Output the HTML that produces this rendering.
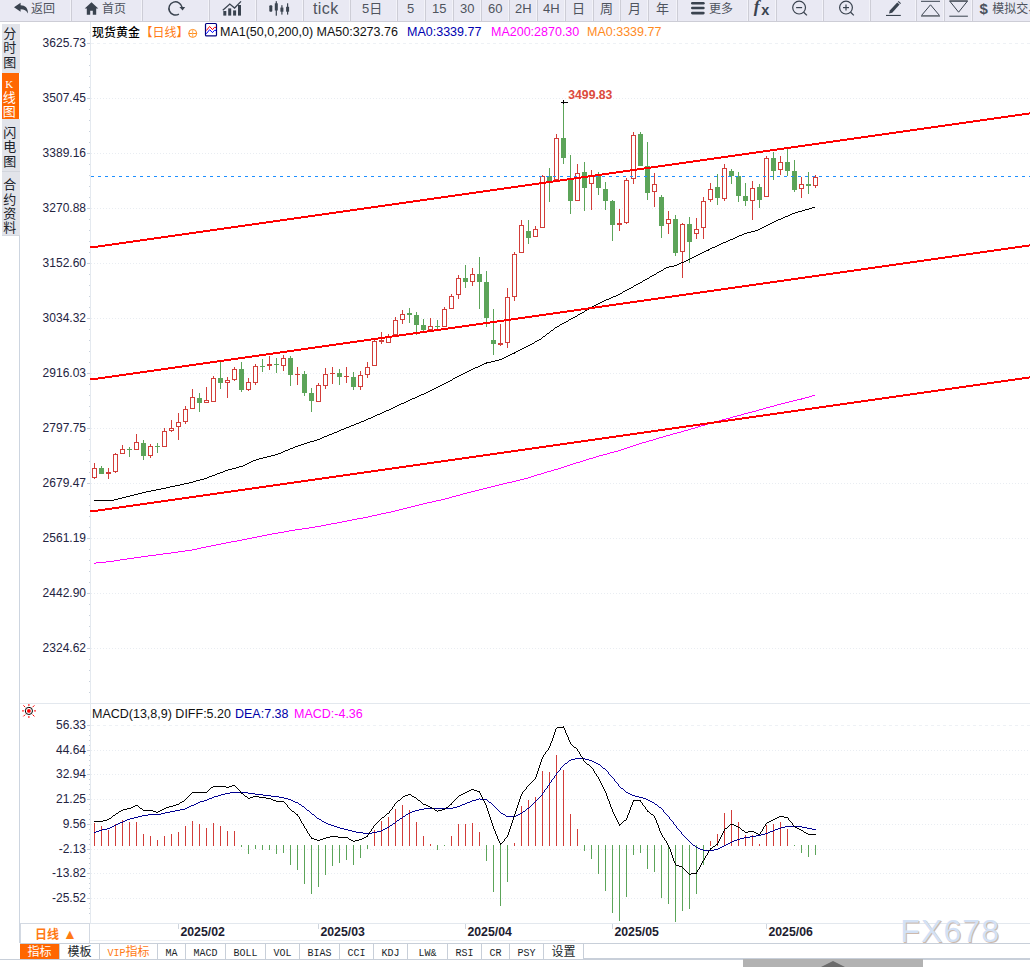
<!DOCTYPE html>
<html lang="zh-CN"><head><meta charset="utf-8"><title>现货黄金 日线</title>
<style>
html,body{margin:0;padding:0;background:#fff;}
body{width:1030px;height:967px;position:relative;overflow:hidden;font-family:"Liberation Sans", "Noto Sans CJK SC", sans-serif;color:#222;}
.abs{position:absolute;}
#tb{position:absolute;left:0;top:0;width:1030px;height:21px;background:#e9e9f3;border-bottom:1px solid #cdcdd6;box-sizing:content-box;}
#tb .b{position:absolute;top:0;height:21px;border-right:1px solid #f3f3f9;box-shadow:1px 0 0 #cdcdd6;font-size:12px;line-height:18px;color:#4f545e;white-space:nowrap;overflow:hidden;}
#tb .b span{position:absolute;top:0;}
#tb .n{font-size:13px;line-height:17px;}
#tb .b svg{vertical-align:middle;}
.side{position:absolute;left:2px;width:18px;font-size:13px;line-height:14.3px;text-align:center;color:#20232a;background:#e2e4ea;box-sizing:border-box;font-weight:400;overflow:hidden;padding-right:2.5px;}
.side div{height:14.3px;}
.side.on{background:#ff6600;color:#fff;font-weight:400;}
.ylab{position:absolute;right:944px;font-size:12px;line-height:14px;color:#23233f;white-space:nowrap;}
.hdr{position:absolute;font-size:12.5px;line-height:16px;white-space:nowrap;}
.bt{position:absolute;top:944px;height:15px;font-size:12px;line-height:17px;text-align:center;border-right:1px solid #c8cfd9;color:#1a1f2a;white-space:nowrap;overflow:hidden;}
.bt .m{font-family:"Liberation Mono",monospace;font-size:10px;display:inline-block;transform:scaleY(1.1);transform-origin:50% 70%;font-weight:normal;color:inherit;}
svg text{font-family:"Liberation Sans", "Noto Sans CJK SC", sans-serif;}
</style></head><body>

<div id="tb">
<div class="b" style="left:0px;width:70px"><span style="left:31px;">返回</span></div>
<div class="b" style="left:72px;width:69px"><span style="left:30px;">首页</span></div>
<div class="b" style="left:143px;width:65px"></div>
<div class="b" style="left:210px;width:45px"></div>
<div class="b" style="left:257px;width:45px"></div>
<div class="b" style="left:304px;width:45px"><span style="left:9px;font-size:16px;line-height:16px;top:1px;letter-spacing:0.4px;">tick</span></div>
<div class="b" style="left:351px;width:45px"><span style="left:11px;font-size:13px;line-height:17px;top:0px;">5日</span></div>
<div class="b" style="left:398px;width:26px"><span style="left:9px;font-size:13px;line-height:17px;top:0px;">5</span></div>
<div class="b" style="left:426px;width:26px"><span style="left:6px;font-size:13px;line-height:17px;top:0px;">15</span></div>
<div class="b" style="left:454px;width:26px"><span style="left:6px;font-size:13px;line-height:17px;top:0px;">30</span></div>
<div class="b" style="left:482px;width:26px"><span style="left:6px;font-size:13px;line-height:17px;top:0px;">60</span></div>
<div class="b" style="left:510px;width:26px"><span style="left:5px;font-size:13px;line-height:17px;top:0px;">2H</span></div>
<div class="b" style="left:538px;width:26px"><span style="left:5px;font-size:13px;line-height:17px;top:0px;">4H</span></div>
<div class="b" style="left:566px;width:26px"><span style="left:6px;font-size:13px;line-height:17px;top:0px;">日</span></div>
<div class="b" style="left:594px;width:25px"><span style="left:6px;font-size:13px;line-height:17px;top:0px;">周</span></div>
<div class="b" style="left:621px;width:26px"><span style="left:7px;font-size:13px;line-height:17px;top:0px;">月</span></div>
<div class="b" style="left:649px;width:27px"><span style="left:7px;font-size:13px;line-height:17px;top:0px;">年</span></div>
<div class="b" style="left:678px;width:69px"><span style="left:31px;">更多</span></div>
<div class="b" style="left:749px;width:26px"></div>
<div class="b" style="left:777px;width:45px"></div>
<div class="b" style="left:824px;width:45px"></div>
<div class="b" style="left:871px;width:44px"></div>
<div class="b" style="left:917px;width:26px"></div>
<div class="b" style="left:945px;width:26px"></div>
<div class="b" style="left:973px;width:66px"><span style="left:19.299999999999955px;">模拟交易</span></div>
</div>
<svg class="abs" style="left:0;top:0" width="1030" height="22" viewBox="0 0 1030 22">
<path d="M14,7.2 L20.6,2.8 L20.6,5.2 C25.2,5.2 28.2,8 27.9,13.5 C26.5,10.6 24.2,9.3 20.6,9.3 L20.6,11.7 Z" fill="#3a434f"/>
<path d="M91.5,2.2 L98.3,8.6 L96.2,8.6 L96.2,14.7 L92.8,14.7 L92.8,10.8 L90.2,10.8 L90.2,14.7 L86.8,14.7 L86.8,8.6 L84.7,8.6 Z" fill="#3a434f"/>
<path d="M178.9,14.1 A6.6,6.6 0 1 1 182,7.2" fill="none" stroke="#3a434f" stroke-width="1.5"/><path d="M179.4,7 L185.2,7 L182.6,10.6 Z" fill="#3a434f"/>
<g fill="#3a434f"><rect x="223.3" y="11" width="3" height="4.6"/><rect x="228.2" y="8.4" width="3" height="7.2"/><rect x="233.1" y="10.4" width="3" height="5.2"/><rect x="238" y="5" width="3" height="10.6"/></g>
<polyline points="222.8,10.2 229.8,4 234.6,8 241,1.4" fill="none" stroke="#3a434f" stroke-width="1.3"/>
<g fill="#3a434f"><rect x="269.3" y="5.2" width="3" height="6.5" rx="1"/><rect x="275.7" y="1.2" width="1.2" height="14.5"/><rect x="274.8" y="3.3" width="3" height="7.2"/><rect x="281.3" y="5.2" width="1.2" height="9.4"/><rect x="280.4" y="7.6" width="3" height="4.1"/><rect x="287" y="3.3" width="1.2" height="11.3"/><rect x="286.1" y="6.8" width="3" height="4.9"/></g>
<g fill="#3a434f"><rect x="691" y="2.1" width="13.7" height="2.4" rx="1.2"/><rect x="691" y="6.8" width="13.7" height="2.4" rx="1.2"/><rect x="691" y="11.8" width="13.7" height="2.6" rx="1.3"/></g>
<text x="753.8" y="12.2" font-size="17.5" font-style="italic" font-weight="bold" fill="#3a434f" style="font-family:'Liberation Serif',serif">f</text>
<text x="761.2" y="14.8" font-size="14.5" font-weight="bold" fill="#3a434f">x</text>
<circle cx="799.1" cy="7.6" r="6.4" fill="none" stroke="#3a434f" stroke-width="1.2"/>
<line x1="803.7" y1="12.2" x2="806.9" y2="15.4" stroke="#3a434f" stroke-width="1.3"/>
<line x1="796.1" y1="7.6" x2="802.1" y2="7.6" stroke="#3a434f" stroke-width="1.2"/>
<circle cx="846" cy="7.6" r="6.4" fill="none" stroke="#3a434f" stroke-width="1.2"/>
<line x1="850.6" y1="12.2" x2="853.8" y2="15.4" stroke="#3a434f" stroke-width="1.3"/>
<line x1="843" y1="7.6" x2="849" y2="7.6" stroke="#3a434f" stroke-width="1.2"/>
<line x1="846" y1="4.6" x2="846" y2="10.6" stroke="#3a434f" stroke-width="1.2"/>
<path d="M889,13.6 L889.8,10.6 L897.2,2.4 L899.6,4.6 L892.2,12.8 Z" fill="#3a434f"/><path d="M897.8,1.8 L898.6,1 L901,3.2 L900.2,4 Z" fill="#3a434f"/>
<rect x="886" y="14.9" width="14.8" height="1.1" fill="#3a434f"/>
<rect x="921" y="0.8" width="19" height="1" fill="#3a434f"/><path d="M930.5,4.8 L939.6,15.6 L921.4,15.6 Z" fill="none" stroke="#3a434f" stroke-width="1"/><rect x="921" y="15.4" width="19" height="1.6" fill="#8a8e96"/>
<rect x="949.3" y="0" width="18.6" height="1.6" fill="#8a8e96"/><path d="M949.8,1.2 L967.4,1.2 L958.6,12.2 Z" fill="none" stroke="#3a434f" stroke-width="1"/><rect x="949.3" y="15.7" width="18.6" height="1" fill="#3a434f"/>
<text x="979.6" y="14" font-size="15" font-weight="bold" fill="#4a525e">$</text>
</svg>
<div class="side" style="top:24px;height:49px;width:18px;padding-top:3.2px"><div>分</div><div>时</div><div>图</div></div>
<div class="side on" style="top:73px;height:46px;width:17px;padding-top:3.6px"><div><span style="font-family:'Liberation Serif',serif;font-size:11px">K</span></div><div>线</div><div>图</div></div>
<div class="side" style="top:119px;height:52px;width:18px;padding-top:7.2px"><div>闪</div><div>电</div><div>图</div></div>
<div class="side" style="top:172px;height:63px;width:18px;padding-top:6.4px"><div>合</div><div>约</div><div>资</div><div>料</div></div>
<div class="abs" style="left:2px;top:171px;width:18px;height:1px;background:#d3d6dd"></div>
<div class="abs" style="left:2px;top:235px;width:18px;height:1px;background:#d5d9e0"></div>
<div class="ylab" style="top:36px">3625.73</div>
<div class="ylab" style="top:91px">3507.45</div>
<div class="ylab" style="top:146px">3389.16</div>
<div class="ylab" style="top:201px">3270.88</div>
<div class="ylab" style="top:256px">3152.60</div>
<div class="ylab" style="top:311px">3034.32</div>
<div class="ylab" style="top:366px">2916.03</div>
<div class="ylab" style="top:421px">2797.75</div>
<div class="ylab" style="top:476px">2679.47</div>
<div class="ylab" style="top:531px">2561.19</div>
<div class="ylab" style="top:586px">2442.90</div>
<div class="ylab" style="top:641px">2324.62</div>
<div class="ylab" style="top:718.0px">56.33</div>
<div class="ylab" style="top:742.7px">44.64</div>
<div class="ylab" style="top:767.4px">32.94</div>
<div class="ylab" style="top:792.1px">21.25</div>
<div class="ylab" style="top:816.8px">9.56</div>
<div class="ylab" style="top:841.5px">-2.13</div>
<div class="ylab" style="top:866.3px">-13.82</div>
<div class="ylab" style="top:891.0px">-25.52</div>
<div class="hdr" style="left:92px;top:24.5px;font-size:12px;color:#000"><b style="font-weight:500">现货黄金</b></div>
<div class="hdr" style="left:140.6px;top:24.5px;font-size:12px;color:#ff7a14">【日线】</div>
<div class="hdr" style="left:220px;top:24px;color:#111">MA1(50,0,200,0) MA50:3273.76</div>
<div class="hdr" style="left:407px;top:24px;color:#0000b0">MA0:3339.77</div>
<div class="hdr" style="left:491px;top:24px;color:#ff00ff">MA200:2870.30</div>
<div class="hdr" style="left:587px;top:24px;color:#ff8a1e">MA0:3339.77</div>
<div class="hdr" style="left:92px;top:706px;color:#111">MACD(13,8,9) DIFF:5.20</div>
<div class="hdr" style="left:235px;top:706px;color:#0000a8">DEA:7.38</div>
<div class="hdr" style="left:294px;top:706px;color:#ff00ff">MACD:-4.36</div>
<svg class="abs" style="left:0;top:0" width="1030" height="967" viewBox="0 0 1030 967">
<g shape-rendering="crispEdges">
<rect x="19" y="236" width="1" height="707" fill="#cdd5e0"/>
<rect x="90" y="22" width="1" height="901" fill="#e4e9ef"/>
<rect x="20" y="703" width="1010" height="1" fill="#e3e8ee"/>
<rect x="20" y="923" width="1010" height="1" fill="#e3e8ee"/>
<rect x="90" y="940" width="485" height="1" fill="#edf0f4"/>
<line x1="91" y1="43.5" x2="1030" y2="43.5" stroke="#eef1f5" stroke-width="1" stroke-dasharray="3 3"/>
<rect x="87" y="43" width="3" height="1" fill="#c9d1dc"/>
<rect x="89" y="54" width="1" height="1" fill="#c9d1dc"/>
<rect x="89" y="65" width="1" height="1" fill="#c9d1dc"/>
<rect x="89" y="76" width="1" height="1" fill="#c9d1dc"/>
<rect x="89" y="87" width="1" height="1" fill="#c9d1dc"/>
<line x1="91" y1="98.5" x2="1030" y2="98.5" stroke="#e9edf2" stroke-width="1" stroke-dasharray="1 2"/>
<rect x="87" y="98" width="3" height="1" fill="#c9d1dc"/>
<rect x="89" y="109" width="1" height="1" fill="#c9d1dc"/>
<rect x="89" y="120" width="1" height="1" fill="#c9d1dc"/>
<rect x="89" y="131" width="1" height="1" fill="#c9d1dc"/>
<rect x="89" y="142" width="1" height="1" fill="#c9d1dc"/>
<line x1="91" y1="153.5" x2="1030" y2="153.5" stroke="#e9edf2" stroke-width="1" stroke-dasharray="1 2"/>
<rect x="87" y="153" width="3" height="1" fill="#c9d1dc"/>
<rect x="89" y="164" width="1" height="1" fill="#c9d1dc"/>
<rect x="89" y="175" width="1" height="1" fill="#c9d1dc"/>
<rect x="89" y="186" width="1" height="1" fill="#c9d1dc"/>
<rect x="89" y="197" width="1" height="1" fill="#c9d1dc"/>
<line x1="91" y1="208.5" x2="1030" y2="208.5" stroke="#e9edf2" stroke-width="1" stroke-dasharray="1 2"/>
<rect x="87" y="208" width="3" height="1" fill="#c9d1dc"/>
<rect x="89" y="219" width="1" height="1" fill="#c9d1dc"/>
<rect x="89" y="230" width="1" height="1" fill="#c9d1dc"/>
<rect x="89" y="241" width="1" height="1" fill="#c9d1dc"/>
<rect x="89" y="252" width="1" height="1" fill="#c9d1dc"/>
<line x1="91" y1="263.5" x2="1030" y2="263.5" stroke="#e9edf2" stroke-width="1" stroke-dasharray="1 2"/>
<rect x="87" y="263" width="3" height="1" fill="#c9d1dc"/>
<rect x="89" y="274" width="1" height="1" fill="#c9d1dc"/>
<rect x="89" y="285" width="1" height="1" fill="#c9d1dc"/>
<rect x="89" y="296" width="1" height="1" fill="#c9d1dc"/>
<rect x="89" y="307" width="1" height="1" fill="#c9d1dc"/>
<line x1="91" y1="318.5" x2="1030" y2="318.5" stroke="#e9edf2" stroke-width="1" stroke-dasharray="1 2"/>
<rect x="87" y="318" width="3" height="1" fill="#c9d1dc"/>
<rect x="89" y="329" width="1" height="1" fill="#c9d1dc"/>
<rect x="89" y="340" width="1" height="1" fill="#c9d1dc"/>
<rect x="89" y="351" width="1" height="1" fill="#c9d1dc"/>
<rect x="89" y="362" width="1" height="1" fill="#c9d1dc"/>
<line x1="91" y1="373.5" x2="1030" y2="373.5" stroke="#e9edf2" stroke-width="1" stroke-dasharray="1 2"/>
<rect x="87" y="373" width="3" height="1" fill="#c9d1dc"/>
<rect x="89" y="384" width="1" height="1" fill="#c9d1dc"/>
<rect x="89" y="395" width="1" height="1" fill="#c9d1dc"/>
<rect x="89" y="406" width="1" height="1" fill="#c9d1dc"/>
<rect x="89" y="417" width="1" height="1" fill="#c9d1dc"/>
<line x1="91" y1="428.5" x2="1030" y2="428.5" stroke="#e9edf2" stroke-width="1" stroke-dasharray="1 2"/>
<rect x="87" y="428" width="3" height="1" fill="#c9d1dc"/>
<rect x="89" y="439" width="1" height="1" fill="#c9d1dc"/>
<rect x="89" y="450" width="1" height="1" fill="#c9d1dc"/>
<rect x="89" y="461" width="1" height="1" fill="#c9d1dc"/>
<rect x="89" y="472" width="1" height="1" fill="#c9d1dc"/>
<line x1="91" y1="483.5" x2="1030" y2="483.5" stroke="#e9edf2" stroke-width="1" stroke-dasharray="1 2"/>
<rect x="87" y="483" width="3" height="1" fill="#c9d1dc"/>
<rect x="89" y="494" width="1" height="1" fill="#c9d1dc"/>
<rect x="89" y="505" width="1" height="1" fill="#c9d1dc"/>
<rect x="89" y="516" width="1" height="1" fill="#c9d1dc"/>
<rect x="89" y="527" width="1" height="1" fill="#c9d1dc"/>
<line x1="91" y1="538.5" x2="1030" y2="538.5" stroke="#e9edf2" stroke-width="1" stroke-dasharray="1 2"/>
<rect x="87" y="538" width="3" height="1" fill="#c9d1dc"/>
<rect x="89" y="549" width="1" height="1" fill="#c9d1dc"/>
<rect x="89" y="560" width="1" height="1" fill="#c9d1dc"/>
<rect x="89" y="571" width="1" height="1" fill="#c9d1dc"/>
<rect x="89" y="582" width="1" height="1" fill="#c9d1dc"/>
<line x1="91" y1="593.5" x2="1030" y2="593.5" stroke="#e9edf2" stroke-width="1" stroke-dasharray="1 2"/>
<rect x="87" y="593" width="3" height="1" fill="#c9d1dc"/>
<rect x="89" y="604" width="1" height="1" fill="#c9d1dc"/>
<rect x="89" y="615" width="1" height="1" fill="#c9d1dc"/>
<rect x="89" y="626" width="1" height="1" fill="#c9d1dc"/>
<rect x="89" y="637" width="1" height="1" fill="#c9d1dc"/>
<line x1="91" y1="648.5" x2="1030" y2="648.5" stroke="#e9edf2" stroke-width="1" stroke-dasharray="1 2"/>
<rect x="87" y="648" width="3" height="1" fill="#c9d1dc"/>
<rect x="89" y="659" width="1" height="1" fill="#c9d1dc"/>
<rect x="89" y="670" width="1" height="1" fill="#c9d1dc"/>
<rect x="89" y="681" width="1" height="1" fill="#c9d1dc"/>
<rect x="89" y="692" width="1" height="1" fill="#c9d1dc"/>
<rect x="89" y="32" width="1" height="1" fill="#c9d1dc"/>
<line x1="91" y1="725.5" x2="1030" y2="725.5" stroke="#eef1f5" stroke-width="1" stroke-dasharray="3 3"/>
<rect x="87" y="725" width="3" height="1" fill="#c9d1dc"/>
<rect x="89" y="730" width="1" height="1" fill="#c9d1dc"/>
<rect x="89" y="735" width="1" height="1" fill="#c9d1dc"/>
<rect x="89" y="740" width="1" height="1" fill="#c9d1dc"/>
<rect x="89" y="745" width="1" height="1" fill="#c9d1dc"/>
<line x1="91" y1="750.5" x2="1030" y2="750.5" stroke="#e9edf2" stroke-width="1" stroke-dasharray="1 2"/>
<rect x="87" y="750" width="3" height="1" fill="#c9d1dc"/>
<rect x="89" y="755" width="1" height="1" fill="#c9d1dc"/>
<rect x="89" y="760" width="1" height="1" fill="#c9d1dc"/>
<rect x="89" y="765" width="1" height="1" fill="#c9d1dc"/>
<rect x="89" y="769" width="1" height="1" fill="#c9d1dc"/>
<line x1="91" y1="774.5" x2="1030" y2="774.5" stroke="#e9edf2" stroke-width="1" stroke-dasharray="1 2"/>
<rect x="87" y="774" width="3" height="1" fill="#c9d1dc"/>
<rect x="89" y="779" width="1" height="1" fill="#c9d1dc"/>
<rect x="89" y="784" width="1" height="1" fill="#c9d1dc"/>
<rect x="89" y="789" width="1" height="1" fill="#c9d1dc"/>
<rect x="89" y="794" width="1" height="1" fill="#c9d1dc"/>
<line x1="91" y1="799.5" x2="1030" y2="799.5" stroke="#e9edf2" stroke-width="1" stroke-dasharray="1 2"/>
<rect x="87" y="799" width="3" height="1" fill="#c9d1dc"/>
<rect x="89" y="804" width="1" height="1" fill="#c9d1dc"/>
<rect x="89" y="809" width="1" height="1" fill="#c9d1dc"/>
<rect x="89" y="814" width="1" height="1" fill="#c9d1dc"/>
<rect x="89" y="819" width="1" height="1" fill="#c9d1dc"/>
<line x1="91" y1="824.5" x2="1030" y2="824.5" stroke="#e9edf2" stroke-width="1" stroke-dasharray="1 2"/>
<rect x="87" y="824" width="3" height="1" fill="#c9d1dc"/>
<rect x="89" y="829" width="1" height="1" fill="#c9d1dc"/>
<rect x="89" y="834" width="1" height="1" fill="#c9d1dc"/>
<rect x="89" y="839" width="1" height="1" fill="#c9d1dc"/>
<rect x="89" y="844" width="1" height="1" fill="#c9d1dc"/>
<line x1="91" y1="849.5" x2="1030" y2="849.5" stroke="#e9edf2" stroke-width="1" stroke-dasharray="1 2"/>
<rect x="87" y="849" width="3" height="1" fill="#c9d1dc"/>
<rect x="89" y="853" width="1" height="1" fill="#c9d1dc"/>
<rect x="89" y="858" width="1" height="1" fill="#c9d1dc"/>
<rect x="89" y="863" width="1" height="1" fill="#c9d1dc"/>
<rect x="89" y="868" width="1" height="1" fill="#c9d1dc"/>
<line x1="91" y1="873.5" x2="1030" y2="873.5" stroke="#e9edf2" stroke-width="1" stroke-dasharray="1 2"/>
<rect x="87" y="873" width="3" height="1" fill="#c9d1dc"/>
<rect x="89" y="878" width="1" height="1" fill="#c9d1dc"/>
<rect x="89" y="883" width="1" height="1" fill="#c9d1dc"/>
<rect x="89" y="888" width="1" height="1" fill="#c9d1dc"/>
<rect x="89" y="893" width="1" height="1" fill="#c9d1dc"/>
<line x1="91" y1="898.5" x2="1030" y2="898.5" stroke="#e9edf2" stroke-width="1" stroke-dasharray="1 2"/>
<rect x="87" y="898" width="3" height="1" fill="#c9d1dc"/>
<rect x="89" y="903" width="1" height="1" fill="#c9d1dc"/>
<rect x="89" y="908" width="1" height="1" fill="#c9d1dc"/>
<rect x="89" y="913" width="1" height="1" fill="#c9d1dc"/>
</g>
<g shape-rendering="crispEdges">
<rect x="94" y="463" width="1" height="16" fill="#d23d39"/>
<rect x="92" y="468" width="5" height="10" fill="#d23d39"/>
<rect x="93" y="469" width="3" height="8" fill="#fff"/>
<rect x="101" y="466" width="1" height="8" fill="#5ca459"/>
<rect x="99" y="468" width="5" height="6" fill="#5ca459"/>
<rect x="108" y="468" width="1" height="11" fill="#d23d39"/>
<rect x="106" y="472" width="5" height="2" fill="#d23d39"/>
<rect x="115" y="453" width="1" height="20" fill="#d23d39"/>
<rect x="113" y="454" width="5" height="18" fill="#d23d39"/>
<rect x="114" y="455" width="3" height="16" fill="#fff"/>
<rect x="122" y="445" width="1" height="9" fill="#d23d39"/>
<rect x="120" y="449" width="5" height="5" fill="#d23d39"/>
<rect x="121" y="450" width="3" height="3" fill="#fff"/>
<rect x="129" y="447" width="1" height="10" fill="#5ca459"/>
<rect x="127" y="449" width="5" height="1" fill="#5ca459"/>
<rect x="136" y="434" width="1" height="16" fill="#d23d39"/>
<rect x="134" y="442" width="5" height="8" fill="#d23d39"/>
<rect x="135" y="443" width="3" height="6" fill="#fff"/>
<rect x="143" y="440" width="1" height="20" fill="#5ca459"/>
<rect x="141" y="443" width="5" height="13" fill="#5ca459"/>
<rect x="150" y="444" width="1" height="14" fill="#d23d39"/>
<rect x="148" y="446" width="5" height="10" fill="#d23d39"/>
<rect x="149" y="447" width="3" height="8" fill="#fff"/>
<rect x="157" y="443" width="1" height="10" fill="#5ca459"/>
<rect x="155" y="446" width="5" height="1" fill="#5ca459"/>
<rect x="164" y="428" width="1" height="19" fill="#d23d39"/>
<rect x="162" y="431" width="5" height="16" fill="#d23d39"/>
<rect x="163" y="432" width="3" height="14" fill="#fff"/>
<rect x="171" y="420" width="1" height="12" fill="#d23d39"/>
<rect x="169" y="428" width="5" height="3" fill="#d23d39"/>
<rect x="170" y="429" width="3" height="1" fill="#fff"/>
<rect x="178" y="413" width="1" height="27" fill="#d23d39"/>
<rect x="176" y="422" width="5" height="5" fill="#d23d39"/>
<rect x="177" y="423" width="3" height="3" fill="#fff"/>
<rect x="185" y="406" width="1" height="18" fill="#d23d39"/>
<rect x="183" y="409" width="5" height="13" fill="#d23d39"/>
<rect x="184" y="410" width="3" height="11" fill="#fff"/>
<rect x="192" y="389" width="1" height="20" fill="#d23d39"/>
<rect x="190" y="397" width="5" height="12" fill="#d23d39"/>
<rect x="191" y="398" width="3" height="10" fill="#fff"/>
<rect x="199" y="393" width="1" height="19" fill="#5ca459"/>
<rect x="197" y="398" width="5" height="5" fill="#5ca459"/>
<rect x="206" y="387" width="1" height="16" fill="#d23d39"/>
<rect x="204" y="400" width="5" height="3" fill="#d23d39"/>
<rect x="205" y="401" width="3" height="1" fill="#fff"/>
<rect x="213" y="376" width="1" height="26" fill="#d23d39"/>
<rect x="211" y="378" width="5" height="24" fill="#d23d39"/>
<rect x="212" y="379" width="3" height="22" fill="#fff"/>
<rect x="220" y="362" width="1" height="27" fill="#5ca459"/>
<rect x="218" y="378" width="5" height="5" fill="#5ca459"/>
<rect x="227" y="377" width="1" height="21" fill="#d23d39"/>
<rect x="225" y="380" width="5" height="3" fill="#d23d39"/>
<rect x="226" y="381" width="3" height="1" fill="#fff"/>
<rect x="234" y="367" width="1" height="14" fill="#d23d39"/>
<rect x="232" y="369" width="5" height="11" fill="#d23d39"/>
<rect x="233" y="370" width="3" height="9" fill="#fff"/>
<rect x="241" y="362" width="1" height="30" fill="#5ca459"/>
<rect x="239" y="369" width="5" height="21" fill="#5ca459"/>
<rect x="248" y="378" width="1" height="13" fill="#d23d39"/>
<rect x="246" y="382" width="5" height="8" fill="#d23d39"/>
<rect x="247" y="383" width="3" height="6" fill="#fff"/>
<rect x="255" y="364" width="1" height="21" fill="#d23d39"/>
<rect x="253" y="366" width="5" height="17" fill="#d23d39"/>
<rect x="254" y="367" width="3" height="15" fill="#fff"/>
<rect x="262" y="359" width="1" height="13" fill="#5ca459"/>
<rect x="260" y="366" width="5" height="1" fill="#5ca459"/>
<rect x="269" y="356" width="1" height="14" fill="#d23d39"/>
<rect x="267" y="364" width="5" height="2" fill="#d23d39"/>
<rect x="276" y="358" width="1" height="15" fill="#5ca459"/>
<rect x="274" y="364" width="5" height="1" fill="#5ca459"/>
<rect x="283" y="355" width="1" height="16" fill="#d23d39"/>
<rect x="281" y="358" width="5" height="8" fill="#d23d39"/>
<rect x="282" y="359" width="3" height="6" fill="#fff"/>
<rect x="290" y="356" width="1" height="30" fill="#5ca459"/>
<rect x="288" y="358" width="5" height="17" fill="#5ca459"/>
<rect x="297" y="367" width="1" height="18" fill="#d23d39"/>
<rect x="295" y="374" width="5" height="1" fill="#d23d39"/>
<rect x="304" y="371" width="1" height="25" fill="#5ca459"/>
<rect x="302" y="374" width="5" height="19" fill="#5ca459"/>
<rect x="311" y="388" width="1" height="24" fill="#5ca459"/>
<rect x="309" y="393" width="5" height="8" fill="#5ca459"/>
<rect x="318" y="383" width="1" height="19" fill="#d23d39"/>
<rect x="316" y="385" width="5" height="17" fill="#d23d39"/>
<rect x="317" y="386" width="3" height="15" fill="#fff"/>
<rect x="325" y="368" width="1" height="21" fill="#d23d39"/>
<rect x="323" y="374" width="5" height="12" fill="#d23d39"/>
<rect x="324" y="375" width="3" height="10" fill="#fff"/>
<rect x="332" y="367" width="1" height="17" fill="#d23d39"/>
<rect x="330" y="373" width="5" height="1" fill="#d23d39"/>
<rect x="339" y="369" width="1" height="16" fill="#5ca459"/>
<rect x="337" y="373" width="5" height="4" fill="#5ca459"/>
<rect x="346" y="367" width="1" height="16" fill="#d23d39"/>
<rect x="344" y="376" width="5" height="1" fill="#d23d39"/>
<rect x="353" y="372" width="1" height="18" fill="#5ca459"/>
<rect x="351" y="377" width="5" height="10" fill="#5ca459"/>
<rect x="360" y="371" width="1" height="19" fill="#d23d39"/>
<rect x="358" y="375" width="5" height="12" fill="#d23d39"/>
<rect x="359" y="376" width="3" height="10" fill="#fff"/>
<rect x="367" y="362" width="1" height="16" fill="#d23d39"/>
<rect x="365" y="367" width="5" height="8" fill="#d23d39"/>
<rect x="366" y="368" width="3" height="6" fill="#fff"/>
<rect x="374" y="340" width="1" height="26" fill="#d23d39"/>
<rect x="372" y="341" width="5" height="25" fill="#d23d39"/>
<rect x="373" y="342" width="3" height="23" fill="#fff"/>
<rect x="381" y="332" width="1" height="12" fill="#d23d39"/>
<rect x="379" y="340" width="5" height="2" fill="#d23d39"/>
<rect x="388" y="334" width="1" height="9" fill="#d23d39"/>
<rect x="386" y="336" width="5" height="7" fill="#d23d39"/>
<rect x="387" y="337" width="3" height="5" fill="#fff"/>
<rect x="395" y="317" width="1" height="18" fill="#d23d39"/>
<rect x="393" y="320" width="5" height="15" fill="#d23d39"/>
<rect x="394" y="321" width="3" height="13" fill="#fff"/>
<rect x="402" y="310" width="1" height="14" fill="#d23d39"/>
<rect x="400" y="314" width="5" height="6" fill="#d23d39"/>
<rect x="401" y="315" width="3" height="4" fill="#fff"/>
<rect x="409" y="308" width="1" height="15" fill="#5ca459"/>
<rect x="407" y="313" width="5" height="2" fill="#5ca459"/>
<rect x="416" y="312" width="1" height="23" fill="#5ca459"/>
<rect x="414" y="315" width="5" height="10" fill="#5ca459"/>
<rect x="423" y="319" width="1" height="12" fill="#5ca459"/>
<rect x="421" y="325" width="5" height="5" fill="#5ca459"/>
<rect x="430" y="318" width="1" height="12" fill="#d23d39"/>
<rect x="428" y="326" width="5" height="4" fill="#d23d39"/>
<rect x="429" y="327" width="3" height="2" fill="#fff"/>
<rect x="437" y="320" width="1" height="9" fill="#5ca459"/>
<rect x="435" y="326" width="5" height="1" fill="#5ca459"/>
<rect x="444" y="307" width="1" height="20" fill="#d23d39"/>
<rect x="442" y="309" width="5" height="18" fill="#d23d39"/>
<rect x="443" y="310" width="3" height="16" fill="#fff"/>
<rect x="451" y="294" width="1" height="15" fill="#d23d39"/>
<rect x="449" y="296" width="5" height="13" fill="#d23d39"/>
<rect x="450" y="297" width="3" height="11" fill="#fff"/>
<rect x="458" y="275" width="1" height="24" fill="#d23d39"/>
<rect x="456" y="278" width="5" height="17" fill="#d23d39"/>
<rect x="457" y="279" width="3" height="15" fill="#fff"/>
<rect x="465" y="265" width="1" height="23" fill="#5ca459"/>
<rect x="463" y="278" width="5" height="4" fill="#5ca459"/>
<rect x="472" y="268" width="1" height="18" fill="#d23d39"/>
<rect x="470" y="274" width="5" height="8" fill="#d23d39"/>
<rect x="471" y="275" width="3" height="6" fill="#fff"/>
<rect x="479" y="257" width="1" height="52" fill="#5ca459"/>
<rect x="477" y="274" width="5" height="8" fill="#5ca459"/>
<rect x="486" y="271" width="1" height="56" fill="#5ca459"/>
<rect x="484" y="282" width="5" height="36" fill="#5ca459"/>
<rect x="493" y="309" width="1" height="46" fill="#5ca459"/>
<rect x="491" y="340" width="5" height="4" fill="#5ca459"/>
<rect x="500" y="324" width="1" height="22" fill="#d23d39"/>
<rect x="498" y="343" width="5" height="2" fill="#d23d39"/>
<rect x="507" y="288" width="1" height="60" fill="#d23d39"/>
<rect x="505" y="297" width="5" height="46" fill="#d23d39"/>
<rect x="506" y="298" width="3" height="44" fill="#fff"/>
<rect x="514" y="252" width="1" height="49" fill="#d23d39"/>
<rect x="512" y="254" width="5" height="43" fill="#d23d39"/>
<rect x="513" y="255" width="3" height="41" fill="#fff"/>
<rect x="521" y="220" width="1" height="33" fill="#d23d39"/>
<rect x="519" y="225" width="5" height="28" fill="#d23d39"/>
<rect x="520" y="226" width="3" height="26" fill="#fff"/>
<rect x="528" y="220" width="1" height="24" fill="#5ca459"/>
<rect x="526" y="231" width="5" height="7" fill="#5ca459"/>
<rect x="535" y="226" width="1" height="11" fill="#d23d39"/>
<rect x="533" y="229" width="5" height="8" fill="#d23d39"/>
<rect x="534" y="230" width="3" height="6" fill="#fff"/>
<rect x="542" y="175" width="1" height="53" fill="#d23d39"/>
<rect x="540" y="176" width="5" height="52" fill="#d23d39"/>
<rect x="541" y="177" width="3" height="50" fill="#fff"/>
<rect x="549" y="168" width="1" height="34" fill="#5ca459"/>
<rect x="547" y="176" width="5" height="5" fill="#5ca459"/>
<rect x="556" y="134" width="1" height="46" fill="#d23d39"/>
<rect x="554" y="138" width="5" height="42" fill="#d23d39"/>
<rect x="555" y="139" width="3" height="40" fill="#fff"/>
<rect x="563" y="102" width="1" height="62" fill="#5ca459"/>
<rect x="561" y="138" width="5" height="20" fill="#5ca459"/>
<rect x="570" y="155" width="1" height="59" fill="#5ca459"/>
<rect x="568" y="179" width="5" height="22" fill="#5ca459"/>
<rect x="577" y="164" width="1" height="37" fill="#d23d39"/>
<rect x="575" y="173" width="5" height="28" fill="#d23d39"/>
<rect x="576" y="174" width="3" height="26" fill="#fff"/>
<rect x="584" y="162" width="1" height="49" fill="#5ca459"/>
<rect x="582" y="172" width="5" height="16" fill="#5ca459"/>
<rect x="591" y="170" width="1" height="40" fill="#d23d39"/>
<rect x="589" y="176" width="5" height="8" fill="#d23d39"/>
<rect x="590" y="177" width="3" height="6" fill="#fff"/>
<rect x="598" y="172" width="1" height="23" fill="#5ca459"/>
<rect x="596" y="176" width="5" height="12" fill="#5ca459"/>
<rect x="605" y="182" width="1" height="28" fill="#5ca459"/>
<rect x="603" y="189" width="5" height="12" fill="#5ca459"/>
<rect x="612" y="200" width="1" height="41" fill="#5ca459"/>
<rect x="610" y="201" width="5" height="24" fill="#5ca459"/>
<rect x="619" y="209" width="1" height="22" fill="#d23d39"/>
<rect x="617" y="223" width="5" height="2" fill="#d23d39"/>
<rect x="626" y="178" width="1" height="46" fill="#d23d39"/>
<rect x="624" y="180" width="5" height="43" fill="#d23d39"/>
<rect x="625" y="181" width="3" height="41" fill="#fff"/>
<rect x="633" y="132" width="1" height="52" fill="#d23d39"/>
<rect x="631" y="135" width="5" height="44" fill="#d23d39"/>
<rect x="632" y="136" width="3" height="42" fill="#fff"/>
<rect x="640" y="132" width="1" height="34" fill="#5ca459"/>
<rect x="638" y="134" width="5" height="32" fill="#5ca459"/>
<rect x="647" y="142" width="1" height="58" fill="#5ca459"/>
<rect x="645" y="166" width="5" height="27" fill="#5ca459"/>
<rect x="654" y="173" width="1" height="34" fill="#d23d39"/>
<rect x="652" y="184" width="5" height="8" fill="#d23d39"/>
<rect x="653" y="185" width="3" height="6" fill="#fff"/>
<rect x="661" y="195" width="1" height="43" fill="#5ca459"/>
<rect x="659" y="197" width="5" height="29" fill="#5ca459"/>
<rect x="668" y="211" width="1" height="23" fill="#d23d39"/>
<rect x="666" y="219" width="5" height="5" fill="#d23d39"/>
<rect x="667" y="220" width="3" height="3" fill="#fff"/>
<rect x="675" y="215" width="1" height="41" fill="#5ca459"/>
<rect x="673" y="219" width="5" height="34" fill="#5ca459"/>
<rect x="682" y="223" width="1" height="55" fill="#d23d39"/>
<rect x="680" y="224" width="5" height="28" fill="#d23d39"/>
<rect x="681" y="225" width="3" height="26" fill="#fff"/>
<rect x="689" y="217" width="1" height="46" fill="#5ca459"/>
<rect x="687" y="224" width="5" height="18" fill="#5ca459"/>
<rect x="696" y="218" width="1" height="21" fill="#d23d39"/>
<rect x="694" y="229" width="5" height="5" fill="#d23d39"/>
<rect x="695" y="230" width="3" height="3" fill="#fff"/>
<rect x="703" y="197" width="1" height="42" fill="#d23d39"/>
<rect x="701" y="201" width="5" height="27" fill="#d23d39"/>
<rect x="702" y="202" width="3" height="25" fill="#fff"/>
<rect x="710" y="183" width="1" height="19" fill="#d23d39"/>
<rect x="708" y="189" width="5" height="11" fill="#d23d39"/>
<rect x="709" y="190" width="3" height="9" fill="#fff"/>
<rect x="717" y="174" width="1" height="31" fill="#5ca459"/>
<rect x="715" y="187" width="5" height="11" fill="#5ca459"/>
<rect x="724" y="164" width="1" height="37" fill="#d23d39"/>
<rect x="722" y="168" width="5" height="31" fill="#d23d39"/>
<rect x="723" y="169" width="3" height="29" fill="#fff"/>
<rect x="731" y="169" width="1" height="15" fill="#5ca459"/>
<rect x="729" y="171" width="5" height="5" fill="#5ca459"/>
<rect x="738" y="172" width="1" height="30" fill="#5ca459"/>
<rect x="736" y="176" width="5" height="20" fill="#5ca459"/>
<rect x="745" y="183" width="1" height="23" fill="#5ca459"/>
<rect x="743" y="196" width="5" height="5" fill="#5ca459"/>
<rect x="752" y="181" width="1" height="39" fill="#d23d39"/>
<rect x="750" y="188" width="5" height="13" fill="#d23d39"/>
<rect x="751" y="189" width="3" height="11" fill="#fff"/>
<rect x="759" y="184" width="1" height="24" fill="#5ca459"/>
<rect x="757" y="187" width="5" height="13" fill="#5ca459"/>
<rect x="766" y="156" width="1" height="41" fill="#d23d39"/>
<rect x="764" y="158" width="5" height="39" fill="#d23d39"/>
<rect x="765" y="159" width="3" height="37" fill="#fff"/>
<rect x="773" y="152" width="1" height="28" fill="#5ca459"/>
<rect x="771" y="158" width="5" height="13" fill="#5ca459"/>
<rect x="780" y="156" width="1" height="19" fill="#d23d39"/>
<rect x="778" y="162" width="5" height="8" fill="#d23d39"/>
<rect x="779" y="163" width="3" height="6" fill="#fff"/>
<rect x="787" y="149" width="1" height="27" fill="#5ca459"/>
<rect x="785" y="162" width="5" height="9" fill="#5ca459"/>
<rect x="794" y="160" width="1" height="32" fill="#5ca459"/>
<rect x="792" y="171" width="5" height="19" fill="#5ca459"/>
<rect x="801" y="177" width="1" height="21" fill="#d23d39"/>
<rect x="799" y="184" width="5" height="5" fill="#d23d39"/>
<rect x="800" y="185" width="3" height="3" fill="#fff"/>
<rect x="808" y="172" width="1" height="22" fill="#5ca459"/>
<rect x="806" y="184" width="5" height="2" fill="#5ca459"/>
<rect x="815" y="175" width="1" height="13" fill="#d23d39"/>
<rect x="813" y="177" width="5" height="9" fill="#d23d39"/>
<rect x="814" y="178" width="3" height="7" fill="#fff"/>
</g>
<path d="M812 395h3v1h-3zM809 396h3v1h-3zM805 397h4v1h-4zM801 398h4v1h-4zM797 399h5v1h-5zM793 400h4v1h-4zM789 401h4v1h-4zM785 402h4v1h-4zM781 403h4v1h-4zM777 404h4v1h-4zM774 405h3v1h-3zM770 406h4v1h-4zM766 407h4v1h-4zM763 408h3v1h-3zM759 409h4v1h-4zM756 410h3v1h-3zM752 411h4v1h-4zM748 412h4v1h-4zM744 413h4v1h-4zM741 414h3v1h-3zM737 415h4v1h-4zM733 416h4v1h-4zM730 417h3v1h-3zM726 418h4v1h-4zM722 419h4v1h-4zM719 420h3v1h-3zM715 421h4v1h-4zM711 422h4v1h-4zM708 423h3v1h-3zM705 424h3v1h-3zM701 425h4v1h-4zM698 426h3v1h-3zM695 427h3v1h-3zM691 428h4v1h-4zM688 429h3v1h-3zM684 430h4v1h-4zM681 431h3v1h-3zM677 432h4v1h-4zM673 433h4v1h-4zM670 434h3v1h-3zM666 435h4v1h-4zM663 436h3v1h-3zM659 437h4v1h-4zM656 438h3v1h-3zM653 439h3v1h-3zM649 440h4v1h-4zM646 441h3v1h-3zM642 442h4v1h-4zM639 443h3v1h-3zM636 444h3v1h-3zM633 445h3v1h-3zM630 446h3v1h-3zM627 447h3v1h-3zM624 448h3v1h-3zM621 449h3v1h-3zM618 450h3v1h-3zM614 451h4v1h-4zM610 452h4v1h-4zM607 453h3v1h-3zM603 454h4v1h-4zM599 455h4v1h-4zM596 456h3v1h-3zM593 457h3v1h-3zM589 458h4v1h-4zM586 459h3v1h-3zM583 460h3v1h-3zM580 461h3v1h-3zM576 462h4v1h-4zM573 463h3v1h-3zM570 464h3v1h-3zM567 465h3v1h-3zM564 466h3v1h-3zM561 467h3v1h-3zM558 468h3v1h-3zM554 469h4v1h-4zM551 470h3v1h-3zM547 471h4v1h-4zM544 472h3v1h-3zM541 473h3v1h-3zM537 474h4v1h-4zM534 475h3v1h-3zM531 476h3v1h-3zM528 477h3v1h-3zM524 478h4v1h-4zM520 479h4v1h-4zM516 480h4v1h-4zM512 481h4v1h-4zM507 482h5v1h-5zM503 483h4v1h-4zM499 484h4v1h-4zM495 485h4v1h-4zM491 486h4v1h-4zM487 487h4v1h-4zM483 488h4v1h-4zM479 489h4v1h-4zM475 490h4v1h-4zM471 491h4v1h-4zM467 492h4v1h-4zM463 493h4v1h-4zM460 494h3v1h-3zM456 495h4v1h-4zM452 496h4v1h-4zM449 497h3v1h-3zM445 498h4v1h-4zM441 499h4v1h-4zM436 500h5v1h-5zM432 501h4v1h-4zM427 502h5v1h-5zM423 503h4v1h-4zM419 504h4v1h-4zM415 505h4v1h-4zM411 506h4v1h-4zM407 507h4v1h-4zM403 508h4v1h-4zM399 509h4v1h-4zM395 510h4v1h-4zM391 511h4v1h-4zM386 512h5v1h-5zM381 513h5v1h-5zM377 514h4v1h-4zM372 515h5v1h-5zM368 516h4v1h-4zM363 517h5v1h-5zM357 518h6v1h-6zM352 519h5v1h-5zM347 520h5v1h-5zM342 521h5v1h-5zM337 522h5v1h-5zM331 523h6v1h-6zM326 524h5v1h-5zM321 525h5v1h-5zM315 526h6v1h-6zM309 527h6v1h-6zM302 528h7v1h-7zM295 529h7v1h-7zM289 530h6v1h-6zM284 531h5v1h-5zM278 532h6v1h-6zM272 533h6v1h-6zM267 534h5v1h-5zM262 535h5v1h-5zM257 536h5v1h-5zM252 537h5v1h-5zM247 538h5v1h-5zM242 539h5v1h-5zM237 540h5v1h-5zM231 541h6v1h-6zM226 542h5v1h-5zM221 543h5v1h-5zM216 544h5v1h-5zM211 545h5v1h-5zM206 546h5v1h-5zM201 547h5v1h-5zM197 548h4v1h-4zM192 549h5v1h-5zM185 550h7v1h-7zM178 551h7v1h-7zM171 552h7v1h-7zM163 553h8v1h-8zM156 554h7v1h-7zM148 555h8v1h-8zM141 556h7v1h-7zM134 557h7v1h-7zM127 558h7v1h-7zM120 559h7v1h-7zM114 560h6v1h-6zM106 561h8v1h-8zM96 562h10v1h-10zM94 563h2v1h-2z" fill="#ff00ff" shape-rendering="crispEdges"/>
<path d="M812 207h3v1h-3zM809 208h3v1h-3zM805 209h4v1h-4zM802 210h3v1h-3zM798 211h4v1h-4zM795 212h3v1h-3zM792 213h3v1h-3zM790 214h2v1h-2zM788 215h2v1h-2zM785 216h3v1h-3zM783 217h2v1h-2zM781 218h2v1h-2zM778 219h3v1h-3zM776 220h2v1h-2zM774 221h2v1h-2zM772 222h2v1h-2zM770 223h2v1h-2zM768 224h2v1h-2zM766 225h2v1h-2zM764 226h2v1h-2zM762 227h2v1h-2zM760 228h2v1h-2zM758 229h2v1h-2zM755 230h3v1h-3zM751 231h4v1h-4zM747 232h4v1h-4zM744 233h3v1h-3zM742 234h2v1h-2zM739 235h3v1h-3zM737 236h2v1h-2zM735 237h2v1h-2zM733 238h2v1h-2zM730 239h3v1h-3zM728 240h2v1h-2zM726 241h2v1h-2zM723 242h3v1h-3zM721 243h2v1h-2zM719 244h2v1h-2zM717 245h2v1h-2zM715 246h2v1h-2zM712 247h3v1h-3zM710 248h2v1h-2zM708 249h2v1h-2zM706 250h3v1h-3zM704 251h2v1h-2zM702 252h2v1h-2zM700 253h2v1h-2zM698 254h2v1h-2zM696 255h2v1h-2zM694 256h2v1h-2zM692 257h2v1h-2zM690 258h2v1h-2zM688 259h2v1h-2zM686 260h2v1h-2zM684 261h2v1h-2zM681 262h3v1h-3zM679 263h2v1h-2zM677 264h2v1h-2zM674 265h3v1h-3zM669 266h5v1h-5zM666 267h3v1h-3zM664 268h2v1h-2zM663 269h1v1h-1zM661 270h2v1h-2zM659 271h2v1h-2zM657 272h2v1h-2zM656 273h1v1h-1zM654 274h2v1h-2zM652 275h2v1h-2zM650 276h2v1h-2zM649 277h1v1h-1zM647 278h2v1h-2zM645 279h2v1h-2zM643 280h2v1h-2zM642 281h1v1h-1zM640 282h2v1h-2zM638 283h2v1h-2zM636 284h2v1h-2zM634 285h2v1h-2zM633 286h1v1h-1zM631 287h2v1h-2zM629 288h2v1h-2zM627 289h2v1h-2zM625 290h2v1h-2zM623 291h2v1h-2zM622 292h1v1h-1zM620 293h2v1h-2zM618 294h2v1h-2zM616 295h2v1h-2zM613 296h3v1h-3zM611 297h2v1h-2zM609 298h2v1h-2zM606 299h3v1h-3zM604 300h2v1h-2zM602 301h2v1h-2zM600 302h2v1h-2zM598 303h2v1h-2zM596 304h2v1h-2zM594 305h2v1h-2zM592 306h2v1h-2zM591 307h1v1h-1zM589 308h2v1h-2zM587 309h2v1h-2zM585 310h2v1h-2zM584 311h1v1h-1zM582 312h2v1h-2zM580 313h2v1h-2zM578 314h2v1h-2zM577 315h1v1h-1zM575 316h2v1h-2zM573 317h2v1h-2zM571 318h2v1h-2zM569 319h2v1h-2zM568 320h1v1h-1zM566 321h2v1h-2zM564 322h2v1h-2zM562 323h2v1h-2zM560 324h2v1h-2zM559 325h1v1h-1zM557 326h2v1h-2zM555 327h2v1h-2zM554 328h1v1h-1zM553 329h1v1h-1zM551 330h2v1h-2zM550 331h1v1h-1zM549 332h1v1h-1zM547 333h2v1h-2zM546 334h1v1h-1zM545 335h1v1h-1zM543 336h2v1h-2zM542 337h1v1h-1zM541 338h1v1h-1zM539 339h2v1h-2zM537 340h2v1h-2zM535 341h2v1h-2zM534 342h1v1h-1zM532 343h2v1h-2zM530 344h2v1h-2zM528 345h2v1h-2zM526 346h2v1h-2zM524 347h2v1h-2zM522 348h2v1h-2zM520 349h2v1h-2zM518 350h2v1h-2zM516 351h2v1h-2zM514 352h2v1h-2zM512 353h3v1h-3zM510 354h2v1h-2zM508 355h2v1h-2zM506 356h2v1h-2zM504 357h2v1h-2zM502 358h2v1h-2zM499 359h3v1h-3zM495 360h4v1h-4zM491 361h4v1h-4zM486 362h5v1h-5zM484 363h3v1h-3zM482 364h2v1h-2zM480 365h2v1h-2zM478 366h2v1h-2zM475 367h3v1h-3zM473 368h2v1h-2zM471 369h2v1h-2zM469 370h2v1h-2zM467 371h2v1h-2zM465 372h2v1h-2zM463 373h2v1h-2zM461 374h2v1h-2zM459 375h2v1h-2zM457 376h2v1h-2zM455 377h2v1h-2zM453 378h2v1h-2zM452 379h1v1h-1zM450 380h2v1h-2zM448 381h2v1h-2zM446 382h2v1h-2zM444 383h2v1h-2zM442 384h2v1h-2zM440 385h2v1h-2zM438 386h2v1h-2zM436 387h2v1h-2zM434 388h2v1h-2zM432 389h2v1h-2zM430 390h2v1h-2zM428 391h2v1h-2zM426 392h2v1h-2zM424 393h2v1h-2zM421 394h3v1h-3zM419 395h2v1h-2zM417 396h2v1h-2zM415 397h2v1h-2zM412 398h3v1h-3zM410 399h2v1h-2zM408 400h2v1h-2zM406 401h2v1h-2zM404 402h2v1h-2zM401 403h3v1h-3zM399 404h2v1h-2zM397 405h2v1h-2zM395 406h2v1h-2zM393 407h2v1h-2zM391 408h2v1h-2zM389 409h2v1h-2zM386 410h3v1h-3zM384 411h2v1h-2zM382 412h2v1h-2zM380 413h2v1h-2zM377 414h3v1h-3zM375 415h2v1h-2zM373 416h2v1h-2zM371 417h2v1h-2zM368 418h3v1h-3zM366 419h2v1h-2zM364 420h2v1h-2zM361 421h3v1h-3zM359 422h2v1h-2zM356 423h3v1h-3zM354 424h2v1h-2zM351 425h3v1h-3zM349 426h2v1h-2zM346 427h3v1h-3zM344 428h2v1h-2zM341 429h3v1h-3zM339 430h2v1h-2zM337 431h2v1h-2zM334 432h3v1h-3zM332 433h2v1h-2zM329 434h3v1h-3zM327 435h2v1h-2zM324 436h3v1h-3zM322 437h2v1h-2zM320 438h2v1h-2zM317 439h3v1h-3zM314 440h3v1h-3zM310 441h4v1h-4zM307 442h3v1h-3zM304 443h3v1h-3zM301 444h3v1h-3zM298 445h3v1h-3zM295 446h3v1h-3zM293 447h2v1h-2zM290 448h3v1h-3zM288 449h2v1h-2zM285 450h3v1h-3zM283 451h2v1h-2zM281 452h2v1h-2zM278 453h3v1h-3zM275 454h3v1h-3zM271 455h4v1h-4zM267 456h4v1h-4zM263 457h4v1h-4zM259 458h4v1h-4zM256 459h3v1h-3zM253 460h3v1h-3zM251 461h2v1h-2zM249 462h2v1h-2zM247 463h2v1h-2zM245 464h2v1h-2zM243 465h2v1h-2zM239 466h4v1h-4zM236 467h3v1h-3zM232 468h4v1h-4zM228 469h4v1h-4zM225 470h3v1h-3zM223 471h2v1h-2zM220 472h3v1h-3zM217 473h3v1h-3zM215 474h2v1h-2zM212 475h3v1h-3zM209 476h3v1h-3zM207 477h2v1h-2zM204 478h3v1h-3zM200 479h4v1h-4zM196 480h4v1h-4zM193 481h3v1h-3zM189 482h4v1h-4zM184 483h5v1h-5zM180 484h4v1h-4zM175 485h5v1h-5zM170 486h5v1h-5zM166 487h4v1h-4zM161 488h5v1h-5zM156 489h5v1h-5zM151 490h5v1h-5zM146 491h5v1h-5zM142 492h4v1h-4zM138 493h4v1h-4zM134 494h4v1h-4zM130 495h4v1h-4zM126 496h4v1h-4zM122 497h4v1h-4zM118 498h4v1h-4zM114 499h4v1h-4zM94 500h20v1h-20z" fill="#000" shape-rendering="crispEdges"/>
<line x1="91" y1="176.5" x2="1030" y2="176.5" stroke="#1e8fff" stroke-width="1" stroke-dasharray="3 4" shape-rendering="crispEdges"/>
<path d="M90 246h8v2h-8zM98 245h7v2h-7zM105 244h7v2h-7zM112 243h7v2h-7zM119 242h7v2h-7zM126 241h7v2h-7zM133 240h7v2h-7zM140 239h7v2h-7zM147 238h7v2h-7zM154 237h7v2h-7zM161 236h7v2h-7zM168 235h7v2h-7zM175 234h7v2h-7zM182 233h7v2h-7zM189 232h7v2h-7zM196 231h7v2h-7zM203 230h7v2h-7zM210 229h7v2h-7zM217 228h7v2h-7zM224 227h7v2h-7zM231 226h7v2h-7zM238 225h7v2h-7zM245 224h7v2h-7zM252 223h7v2h-7zM259 222h7v2h-7zM266 221h7v2h-7zM273 220h7v2h-7zM280 219h7v2h-7zM287 218h7v2h-7zM294 217h7v2h-7zM301 216h7v2h-7zM308 215h7v2h-7zM315 214h7v2h-7zM322 213h7v2h-7zM329 212h7v2h-7zM336 211h7v2h-7zM343 210h7v2h-7zM350 209h7v2h-7zM357 208h7v2h-7zM364 207h7v2h-7zM371 206h7v2h-7zM378 205h7v2h-7zM385 204h7v2h-7zM392 203h7v2h-7zM399 202h7v2h-7zM406 201h7v2h-7zM413 200h7v2h-7zM420 199h7v2h-7zM427 198h7v2h-7zM434 197h7v2h-7zM441 196h7v2h-7zM448 195h7v2h-7zM455 194h7v2h-7zM462 193h7v2h-7zM469 192h7v2h-7zM476 191h7v2h-7zM483 190h7v2h-7zM490 189h7v2h-7zM497 188h7v2h-7zM504 187h7v2h-7zM511 186h7v2h-7zM518 185h7v2h-7zM525 184h7v2h-7zM532 183h7v2h-7zM539 182h7v2h-7zM546 181h7v2h-7zM553 180h7v2h-7zM560 179h7v2h-7zM567 178h7v2h-7zM574 177h7v2h-7zM581 176h7v2h-7zM588 175h7v2h-7zM595 174h7v2h-7zM602 173h7v2h-7zM609 172h7v2h-7zM616 171h7v2h-7zM623 170h7v2h-7zM630 169h7v2h-7zM637 168h7v2h-7zM644 167h7v2h-7zM651 166h7v2h-7zM658 165h7v2h-7zM665 164h7v2h-7zM672 163h7v2h-7zM679 162h7v2h-7zM686 161h7v2h-7zM693 160h7v2h-7zM700 159h7v2h-7zM707 158h7v2h-7zM714 157h7v2h-7zM721 156h7v2h-7zM728 155h7v2h-7zM735 154h7v2h-7zM742 153h7v2h-7zM749 152h7v2h-7zM756 151h7v2h-7zM763 150h7v2h-7zM770 149h7v2h-7zM777 148h7v2h-7zM784 147h7v2h-7zM791 146h7v2h-7zM798 145h7v2h-7zM805 144h7v2h-7zM812 143h7v2h-7zM819 142h7v2h-7zM826 141h7v2h-7zM833 140h7v2h-7zM840 139h7v2h-7zM847 138h7v2h-7zM854 137h7v2h-7zM861 136h7v2h-7zM868 135h7v2h-7zM875 134h7v2h-7zM882 133h7v2h-7zM889 132h7v2h-7zM896 131h7v2h-7zM903 130h7v2h-7zM910 129h7v2h-7zM917 128h7v2h-7zM924 127h7v2h-7zM931 126h7v2h-7zM938 125h7v2h-7zM945 124h7v2h-7zM952 123h7v2h-7zM959 122h7v2h-7zM966 121h7v2h-7zM973 120h7v2h-7zM980 119h7v2h-7zM987 118h7v2h-7zM994 117h7v2h-7zM1001 116h7v2h-7zM1008 115h7v2h-7zM1015 114h7v2h-7zM1022 113h7v2h-7zM1029 112h1v2h-1z" fill="#ff0000" shape-rendering="crispEdges"/>
<path d="M90 378h8v2h-8zM98 377h7v2h-7zM105 376h7v2h-7zM112 375h7v2h-7zM119 374h7v2h-7zM126 373h7v2h-7zM133 372h7v2h-7zM140 371h7v2h-7zM147 370h7v2h-7zM154 369h7v2h-7zM161 368h7v2h-7zM168 367h7v2h-7zM175 366h7v2h-7zM182 365h7v2h-7zM189 364h7v2h-7zM196 363h7v2h-7zM203 362h7v2h-7zM210 361h7v2h-7zM217 360h7v2h-7zM224 359h7v2h-7zM231 358h7v2h-7zM238 357h7v2h-7zM245 356h7v2h-7zM252 355h7v2h-7zM259 354h7v2h-7zM266 353h7v2h-7zM273 352h7v2h-7zM280 351h7v2h-7zM287 350h7v2h-7zM294 349h7v2h-7zM301 348h7v2h-7zM308 347h7v2h-7zM315 346h7v2h-7zM322 345h7v2h-7zM329 344h7v2h-7zM336 343h7v2h-7zM343 342h7v2h-7zM350 341h7v2h-7zM357 340h7v2h-7zM364 339h7v2h-7zM371 338h7v2h-7zM378 337h7v2h-7zM385 336h7v2h-7zM392 335h7v2h-7zM399 334h7v2h-7zM406 333h7v2h-7zM413 332h7v2h-7zM420 331h7v2h-7zM427 330h7v2h-7zM434 329h7v2h-7zM441 328h7v2h-7zM448 327h7v2h-7zM455 326h7v2h-7zM462 325h7v2h-7zM469 324h7v2h-7zM476 323h7v2h-7zM483 322h7v2h-7zM490 321h7v2h-7zM497 320h7v2h-7zM504 319h7v2h-7zM511 318h7v2h-7zM518 317h7v2h-7zM525 316h7v2h-7zM532 315h7v2h-7zM539 314h7v2h-7zM546 313h7v2h-7zM553 312h7v2h-7zM560 311h7v2h-7zM567 310h7v2h-7zM574 309h7v2h-7zM581 308h7v2h-7zM588 307h7v2h-7zM595 306h7v2h-7zM602 305h7v2h-7zM609 304h7v2h-7zM616 303h7v2h-7zM623 302h7v2h-7zM630 301h7v2h-7zM637 300h7v2h-7zM644 299h7v2h-7zM651 298h7v2h-7zM658 297h7v2h-7zM665 296h7v2h-7zM672 295h7v2h-7zM679 294h7v2h-7zM686 293h7v2h-7zM693 292h7v2h-7zM700 291h7v2h-7zM707 290h7v2h-7zM714 289h7v2h-7zM721 288h7v2h-7zM728 287h7v2h-7zM735 286h7v2h-7zM742 285h7v2h-7zM749 284h7v2h-7zM756 283h7v2h-7zM763 282h7v2h-7zM770 281h7v2h-7zM777 280h7v2h-7zM784 279h7v2h-7zM791 278h7v2h-7zM798 277h7v2h-7zM805 276h7v2h-7zM812 275h7v2h-7zM819 274h7v2h-7zM826 273h7v2h-7zM833 272h7v2h-7zM840 271h7v2h-7zM847 270h7v2h-7zM854 269h7v2h-7zM861 268h7v2h-7zM868 267h7v2h-7zM875 266h7v2h-7zM882 265h7v2h-7zM889 264h7v2h-7zM896 263h7v2h-7zM903 262h7v2h-7zM910 261h7v2h-7zM917 260h7v2h-7zM924 259h7v2h-7zM931 258h7v2h-7zM938 257h7v2h-7zM945 256h7v2h-7zM952 255h7v2h-7zM959 254h7v2h-7zM966 253h7v2h-7zM973 252h7v2h-7zM980 251h7v2h-7zM987 250h7v2h-7zM994 249h7v2h-7zM1001 248h7v2h-7zM1008 247h7v2h-7zM1015 246h7v2h-7zM1022 245h7v2h-7zM1029 244h1v2h-1z" fill="#ff0000" shape-rendering="crispEdges"/>
<path d="M90 510h8v2h-8zM98 509h7v2h-7zM105 508h7v2h-7zM112 507h7v2h-7zM119 506h7v2h-7zM126 505h7v2h-7zM133 504h7v2h-7zM140 503h7v2h-7zM147 502h7v2h-7zM154 501h7v2h-7zM161 500h7v2h-7zM168 499h7v2h-7zM175 498h7v2h-7zM182 497h7v2h-7zM189 496h7v2h-7zM196 495h7v2h-7zM203 494h7v2h-7zM210 493h7v2h-7zM217 492h7v2h-7zM224 491h7v2h-7zM231 490h7v2h-7zM238 489h7v2h-7zM245 488h7v2h-7zM252 487h7v2h-7zM259 486h7v2h-7zM266 485h7v2h-7zM273 484h7v2h-7zM280 483h7v2h-7zM287 482h7v2h-7zM294 481h7v2h-7zM301 480h7v2h-7zM308 479h7v2h-7zM315 478h7v2h-7zM322 477h7v2h-7zM329 476h7v2h-7zM336 475h7v2h-7zM343 474h7v2h-7zM350 473h7v2h-7zM357 472h7v2h-7zM364 471h7v2h-7zM371 470h7v2h-7zM378 469h7v2h-7zM385 468h7v2h-7zM392 467h7v2h-7zM399 466h7v2h-7zM406 465h7v2h-7zM413 464h7v2h-7zM420 463h7v2h-7zM427 462h7v2h-7zM434 461h7v2h-7zM441 460h7v2h-7zM448 459h7v2h-7zM455 458h7v2h-7zM462 457h7v2h-7zM469 456h7v2h-7zM476 455h7v2h-7zM483 454h7v2h-7zM490 453h7v2h-7zM497 452h7v2h-7zM504 451h7v2h-7zM511 450h7v2h-7zM518 449h7v2h-7zM525 448h7v2h-7zM532 447h7v2h-7zM539 446h7v2h-7zM546 445h7v2h-7zM553 444h7v2h-7zM560 443h7v2h-7zM567 442h7v2h-7zM574 441h7v2h-7zM581 440h7v2h-7zM588 439h7v2h-7zM595 438h7v2h-7zM602 437h7v2h-7zM609 436h7v2h-7zM616 435h7v2h-7zM623 434h7v2h-7zM630 433h7v2h-7zM637 432h7v2h-7zM644 431h7v2h-7zM651 430h7v2h-7zM658 429h7v2h-7zM665 428h7v2h-7zM672 427h7v2h-7zM679 426h7v2h-7zM686 425h7v2h-7zM693 424h7v2h-7zM700 423h7v2h-7zM707 422h7v2h-7zM714 421h7v2h-7zM721 420h7v2h-7zM728 419h7v2h-7zM735 418h7v2h-7zM742 417h7v2h-7zM749 416h7v2h-7zM756 415h7v2h-7zM763 414h7v2h-7zM770 413h7v2h-7zM777 412h7v2h-7zM784 411h7v2h-7zM791 410h7v2h-7zM798 409h7v2h-7zM805 408h7v2h-7zM812 407h7v2h-7zM819 406h7v2h-7zM826 405h7v2h-7zM833 404h7v2h-7zM840 403h7v2h-7zM847 402h7v2h-7zM854 401h7v2h-7zM861 400h7v2h-7zM868 399h7v2h-7zM875 398h7v2h-7zM882 397h7v2h-7zM889 396h7v2h-7zM896 395h7v2h-7zM903 394h7v2h-7zM910 393h7v2h-7zM917 392h7v2h-7zM924 391h7v2h-7zM931 390h7v2h-7zM938 389h7v2h-7zM945 388h7v2h-7zM952 387h7v2h-7zM959 386h7v2h-7zM966 385h7v2h-7zM973 384h7v2h-7zM980 383h7v2h-7zM987 382h7v2h-7zM994 381h7v2h-7zM1001 380h7v2h-7zM1008 379h7v2h-7zM1015 378h7v2h-7zM1022 377h7v2h-7zM1029 376h1v2h-1z" fill="#ff0000" shape-rendering="crispEdges"/>
<circle cx="192.7" cy="33.4" r="4" fill="none" stroke="#ff8c1a" stroke-width="1"/><line x1="188.7" y1="33.5" x2="196.7" y2="33.5" stroke="#ff8c1a" stroke-width="1"/><line x1="192.7" y1="29.4" x2="192.7" y2="37.4" stroke="#ffb060" stroke-width="1"/>
<rect x="205.5" y="23.5" width="11" height="12.4" rx="1" fill="#fff" stroke="#000080" stroke-width="1.2"/>
<polyline points="206.3,30.6 209.6,26.5 212.5,29.6 214.4,27.4 216,27.4" fill="none" stroke="#ff0000" stroke-width="1"/>
<polyline points="206.3,33.8 209.6,29.7 212.5,32.6 214.4,30.4 216,30.4" fill="none" stroke="#0000ff" stroke-width="1"/>
<circle cx="28.9" cy="710.9" r="3.6" fill="#fff" stroke="#000" stroke-width="1"/><circle cx="28.9" cy="710.9" r="1.9" fill="#ff0000"/>
<g stroke="#ff0000" stroke-width="1" stroke-linecap="butt"><line x1="28.9" y1="704" x2="28.9" y2="706"/><line x1="28.9" y1="716" x2="28.9" y2="718"/><line x1="22" y1="710.9" x2="24" y2="710.9"/><line x1="34" y1="710.9" x2="36" y2="710.9"/><line x1="23.4" y1="705.4" x2="25.2" y2="707.2"/><line x1="34.4" y1="705.4" x2="32.6" y2="707.2"/><line x1="23.4" y1="716.4" x2="25.2" y2="714.6"/><line x1="34.4" y1="716.4" x2="32.6" y2="714.6"/></g>
<g shape-rendering="crispEdges"><rect x="561" y="102" width="7" height="1" fill="#000"/><rect x="563" y="100" width="1" height="4" fill="#000"/></g>
<text x="568.3" y="99" font-size="12.2" font-weight="bold" fill="#dc4a3c">3499.83</text>
<g shape-rendering="crispEdges">
<rect x="94" y="823" width="1" height="23" fill="#d23d39"/>
<rect x="101" y="826" width="1" height="20" fill="#d23d39"/>
<rect x="108" y="830" width="1" height="16" fill="#d23d39"/>
<rect x="115" y="824" width="1" height="22" fill="#d23d39"/>
<rect x="122" y="820" width="1" height="26" fill="#d23d39"/>
<rect x="129" y="822" width="1" height="24" fill="#d23d39"/>
<rect x="136" y="822" width="1" height="24" fill="#d23d39"/>
<rect x="143" y="834" width="1" height="12" fill="#d23d39"/>
<rect x="150" y="836" width="1" height="10" fill="#d23d39"/>
<rect x="157" y="840" width="1" height="6" fill="#d23d39"/>
<rect x="164" y="836" width="1" height="10" fill="#d23d39"/>
<rect x="171" y="834" width="1" height="12" fill="#d23d39"/>
<rect x="178" y="832" width="1" height="14" fill="#d23d39"/>
<rect x="185" y="826" width="1" height="20" fill="#d23d39"/>
<rect x="192" y="821" width="1" height="25" fill="#d23d39"/>
<rect x="199" y="824" width="1" height="22" fill="#d23d39"/>
<rect x="206" y="828" width="1" height="18" fill="#d23d39"/>
<rect x="213" y="823" width="1" height="23" fill="#d23d39"/>
<rect x="220" y="826" width="1" height="20" fill="#d23d39"/>
<rect x="227" y="831" width="1" height="15" fill="#d23d39"/>
<rect x="234" y="831" width="1" height="15" fill="#d23d39"/>
<rect x="241" y="845" width="1" height="2" fill="#5ca459"/>
<rect x="248" y="845" width="1" height="9" fill="#5ca459"/>
<rect x="255" y="845" width="1" height="4" fill="#5ca459"/>
<rect x="262" y="845" width="1" height="5" fill="#5ca459"/>
<rect x="269" y="845" width="1" height="5" fill="#5ca459"/>
<rect x="276" y="845" width="1" height="9" fill="#5ca459"/>
<rect x="283" y="845" width="1" height="8" fill="#5ca459"/>
<rect x="290" y="845" width="1" height="20" fill="#5ca459"/>
<rect x="297" y="845" width="1" height="25" fill="#5ca459"/>
<rect x="304" y="845" width="1" height="39" fill="#5ca459"/>
<rect x="311" y="845" width="1" height="49" fill="#5ca459"/>
<rect x="318" y="845" width="1" height="42" fill="#5ca459"/>
<rect x="325" y="845" width="1" height="30" fill="#5ca459"/>
<rect x="332" y="845" width="1" height="21" fill="#5ca459"/>
<rect x="339" y="845" width="1" height="18" fill="#5ca459"/>
<rect x="346" y="845" width="1" height="15" fill="#5ca459"/>
<rect x="353" y="845" width="1" height="20" fill="#5ca459"/>
<rect x="360" y="845" width="1" height="13" fill="#5ca459"/>
<rect x="367" y="845" width="1" height="4" fill="#5ca459"/>
<rect x="374" y="830" width="1" height="16" fill="#d23d39"/>
<rect x="381" y="821" width="1" height="25" fill="#d23d39"/>
<rect x="388" y="817" width="1" height="29" fill="#d23d39"/>
<rect x="395" y="809" width="1" height="37" fill="#d23d39"/>
<rect x="402" y="805" width="1" height="41" fill="#d23d39"/>
<rect x="409" y="810" width="1" height="36" fill="#d23d39"/>
<rect x="416" y="822" width="1" height="24" fill="#d23d39"/>
<rect x="423" y="836" width="1" height="10" fill="#d23d39"/>
<rect x="430" y="844" width="1" height="2" fill="#d23d39"/>
<rect x="437" y="845" width="1" height="5" fill="#5ca459"/>
<rect x="444" y="845" width="1" height="1" fill="#5ca459"/>
<rect x="451" y="836" width="1" height="10" fill="#d23d39"/>
<rect x="458" y="824" width="1" height="22" fill="#d23d39"/>
<rect x="465" y="824" width="1" height="22" fill="#d23d39"/>
<rect x="472" y="823" width="1" height="23" fill="#d23d39"/>
<rect x="479" y="832" width="1" height="14" fill="#d23d39"/>
<rect x="486" y="845" width="1" height="16" fill="#5ca459"/>
<rect x="493" y="845" width="1" height="47" fill="#5ca459"/>
<rect x="500" y="845" width="1" height="61" fill="#5ca459"/>
<rect x="507" y="845" width="1" height="37" fill="#5ca459"/>
<rect x="514" y="843" width="1" height="3" fill="#d23d39"/>
<rect x="521" y="806" width="1" height="40" fill="#d23d39"/>
<rect x="528" y="800" width="1" height="46" fill="#d23d39"/>
<rect x="535" y="797" width="1" height="49" fill="#d23d39"/>
<rect x="542" y="771" width="1" height="75" fill="#d23d39"/>
<rect x="549" y="772" width="1" height="74" fill="#d23d39"/>
<rect x="556" y="755" width="1" height="91" fill="#d23d39"/>
<rect x="563" y="770" width="1" height="76" fill="#d23d39"/>
<rect x="570" y="814" width="1" height="32" fill="#d23d39"/>
<rect x="577" y="829" width="1" height="17" fill="#d23d39"/>
<rect x="584" y="845" width="1" height="6" fill="#5ca459"/>
<rect x="591" y="845" width="1" height="14" fill="#5ca459"/>
<rect x="598" y="845" width="1" height="29" fill="#5ca459"/>
<rect x="605" y="845" width="1" height="46" fill="#5ca459"/>
<rect x="612" y="845" width="1" height="68" fill="#5ca459"/>
<rect x="619" y="845" width="1" height="76" fill="#5ca459"/>
<rect x="626" y="845" width="1" height="52" fill="#5ca459"/>
<rect x="633" y="845" width="1" height="10" fill="#5ca459"/>
<rect x="640" y="845" width="1" height="8" fill="#5ca459"/>
<rect x="647" y="845" width="1" height="24" fill="#5ca459"/>
<rect x="654" y="845" width="1" height="27" fill="#5ca459"/>
<rect x="661" y="845" width="1" height="53" fill="#5ca459"/>
<rect x="668" y="845" width="1" height="59" fill="#5ca459"/>
<rect x="675" y="845" width="1" height="77" fill="#5ca459"/>
<rect x="682" y="845" width="1" height="66" fill="#5ca459"/>
<rect x="689" y="845" width="1" height="64" fill="#5ca459"/>
<rect x="696" y="845" width="1" height="49" fill="#5ca459"/>
<rect x="703" y="845" width="1" height="20" fill="#5ca459"/>
<rect x="710" y="841" width="1" height="5" fill="#d23d39"/>
<rect x="717" y="834" width="1" height="12" fill="#d23d39"/>
<rect x="724" y="813" width="1" height="33" fill="#d23d39"/>
<rect x="731" y="810" width="1" height="36" fill="#d23d39"/>
<rect x="738" y="822" width="1" height="24" fill="#d23d39"/>
<rect x="745" y="835" width="1" height="11" fill="#d23d39"/>
<rect x="752" y="835" width="1" height="11" fill="#d23d39"/>
<rect x="759" y="844" width="1" height="2" fill="#d23d39"/>
<rect x="766" y="825" width="1" height="21" fill="#d23d39"/>
<rect x="773" y="824" width="1" height="22" fill="#d23d39"/>
<rect x="780" y="822" width="1" height="24" fill="#d23d39"/>
<rect x="787" y="829" width="1" height="17" fill="#d23d39"/>
<rect x="794" y="845" width="1" height="1" fill="#5ca459"/>
<rect x="801" y="845" width="1" height="8" fill="#5ca459"/>
<rect x="808" y="845" width="1" height="12" fill="#5ca459"/>
<rect x="815" y="845" width="1" height="10" fill="#5ca459"/>
</g>
<path d="M575 758h10v1h-10zM571 759h4v1h-4zM585 759h4v1h-4zM569 760h2v1h-2zM589 760h3v1h-3zM568 761h1v1h-1zM592 761h2v1h-2zM567 762h1v1h-1zM594 762h2v1h-2zM565 763h2v1h-2zM596 763h2v1h-2zM564 764h1v1h-1zM598 764h2v1h-2zM563 765h1v1h-1zM600 765h1v1h-1zM562 766h1v1h-1zM601 766h1v1h-1zM561 767h1v1h-1zM602 767h1v1h-1zM560 768h1v1h-1zM603 768h2v1h-2zM560 769h1v1h-1zM605 769h1v1h-1zM559 770h1v1h-1zM606 770h1v1h-1zM558 771h1v1h-1zM607 771h1v1h-1zM557 772h1v1h-1zM608 772h1v1h-1zM556 773h1v1h-1zM608 773h1v1h-1zM556 774h1v1h-1zM609 774h1v1h-1zM555 775h1v1h-1zM610 775h1v1h-1zM554 776h1v1h-1zM611 776h1v1h-1zM554 777h1v1h-1zM612 777h1v1h-1zM553 778h1v1h-1zM613 778h1v1h-1zM552 779h1v1h-1zM614 779h1v1h-1zM551 780h1v1h-1zM614 780h1v1h-1zM551 781h1v1h-1zM615 781h1v1h-1zM550 782h1v1h-1zM616 782h1v1h-1zM549 783h1v1h-1zM617 783h1v1h-1zM549 784h1v1h-1zM618 784h1v1h-1zM548 785h1v1h-1zM618 785h1v1h-1zM547 786h1v1h-1zM619 786h1v1h-1zM547 787h1v1h-1zM620 787h1v1h-1zM546 788h1v1h-1zM621 788h2v1h-2zM545 789h1v1h-1zM623 789h1v1h-1zM544 790h1v1h-1zM624 790h1v1h-1zM544 791h1v1h-1zM625 791h1v1h-1zM230 792h18v1h-18zM543 792h1v1h-1zM626 792h2v1h-2zM225 793h5v1h-5zM248 793h7v1h-7zM542 793h1v1h-1zM628 793h2v1h-2zM221 794h4v1h-4zM255 794h8v1h-8zM542 794h1v1h-1zM630 794h2v1h-2zM218 795h3v1h-3zM263 795h8v1h-8zM541 795h1v1h-1zM632 795h3v1h-3zM214 796h4v1h-4zM271 796h8v1h-8zM540 796h1v1h-1zM635 796h4v1h-4zM212 797h2v1h-2zM279 797h5v1h-5zM539 797h1v1h-1zM639 797h4v1h-4zM209 798h3v1h-3zM284 798h4v1h-4zM479 798h1v1h-1zM538 798h1v1h-1zM643 798h3v1h-3zM207 799h2v1h-2zM288 799h3v1h-3zM476 799h3v1h-3zM480 799h7v1h-7zM537 799h1v1h-1zM646 799h2v1h-2zM204 800h3v1h-3zM291 800h2v1h-2zM472 800h4v1h-4zM487 800h1v1h-1zM536 800h1v1h-1zM648 800h2v1h-2zM200 801h4v1h-4zM293 801h2v1h-2zM470 801h2v1h-2zM488 801h1v1h-1zM535 801h1v1h-1zM650 801h2v1h-2zM198 802h2v1h-2zM295 802h3v1h-3zM467 802h3v1h-3zM489 802h2v1h-2zM534 802h1v1h-1zM652 802h2v1h-2zM196 803h2v1h-2zM298 803h1v1h-1zM465 803h2v1h-2zM491 803h1v1h-1zM533 803h1v1h-1zM654 803h1v1h-1zM194 804h2v1h-2zM299 804h2v1h-2zM462 804h3v1h-3zM492 804h1v1h-1zM532 804h1v1h-1zM655 804h2v1h-2zM191 805h3v1h-3zM301 805h1v1h-1zM460 805h2v1h-2zM493 805h1v1h-1zM531 805h1v1h-1zM657 805h1v1h-1zM189 806h2v1h-2zM302 806h2v1h-2zM457 806h3v1h-3zM494 806h1v1h-1zM530 806h1v1h-1zM658 806h1v1h-1zM187 807h2v1h-2zM304 807h1v1h-1zM453 807h4v1h-4zM495 807h1v1h-1zM529 807h1v1h-1zM659 807h2v1h-2zM185 808h2v1h-2zM305 808h1v1h-1zM424 808h29v1h-29zM496 808h1v1h-1zM527 808h2v1h-2zM661 808h1v1h-1zM180 809h5v1h-5zM306 809h1v1h-1zM419 809h5v1h-5zM497 809h1v1h-1zM526 809h1v1h-1zM662 809h1v1h-1zM175 810h5v1h-5zM307 810h2v1h-2zM415 810h4v1h-4zM498 810h1v1h-1zM525 810h1v1h-1zM663 810h1v1h-1zM170 811h5v1h-5zM309 811h1v1h-1zM412 811h3v1h-3zM499 811h1v1h-1zM523 811h2v1h-2zM663 811h1v1h-1zM165 812h5v1h-5zM310 812h1v1h-1zM410 812h2v1h-2zM500 812h1v1h-1zM522 812h1v1h-1zM664 812h1v1h-1zM161 813h4v1h-4zM311 813h1v1h-1zM408 813h2v1h-2zM501 813h2v1h-2zM520 813h2v1h-2zM665 813h1v1h-1zM148 814h13v1h-13zM312 814h2v1h-2zM406 814h2v1h-2zM503 814h2v1h-2zM518 814h2v1h-2zM666 814h1v1h-1zM142 815h6v1h-6zM314 815h1v1h-1zM405 815h1v1h-1zM505 815h1v1h-1zM516 815h2v1h-2zM667 815h1v1h-1zM138 816h4v1h-4zM315 816h1v1h-1zM403 816h2v1h-2zM506 816h10v1h-10zM668 816h1v1h-1zM134 817h4v1h-4zM316 817h1v1h-1zM402 817h1v1h-1zM669 817h1v1h-1zM130 818h4v1h-4zM317 818h2v1h-2zM400 818h2v1h-2zM669 818h1v1h-1zM127 819h3v1h-3zM319 819h2v1h-2zM399 819h1v1h-1zM670 819h1v1h-1zM125 820h2v1h-2zM321 820h1v1h-1zM397 820h2v1h-2zM671 820h1v1h-1zM123 821h2v1h-2zM322 821h2v1h-2zM396 821h1v1h-1zM672 821h1v1h-1zM120 822h3v1h-3zM324 822h2v1h-2zM395 822h1v1h-1zM673 822h1v1h-1zM118 823h2v1h-2zM326 823h2v1h-2zM393 823h2v1h-2zM673 823h1v1h-1zM116 824h2v1h-2zM328 824h3v1h-3zM392 824h1v1h-1zM674 824h1v1h-1zM114 825h2v1h-2zM331 825h3v1h-3zM390 825h2v1h-2zM675 825h1v1h-1zM112 826h2v1h-2zM334 826h3v1h-3zM389 826h1v1h-1zM676 826h1v1h-1zM785 826h17v1h-17zM110 827h2v1h-2zM337 827h3v1h-3zM387 827h2v1h-2zM676 827h1v1h-1zM781 827h4v1h-4zM802 827h5v1h-5zM107 828h3v1h-3zM340 828h4v1h-4zM385 828h2v1h-2zM677 828h1v1h-1zM778 828h3v1h-3zM807 828h5v1h-5zM102 829h5v1h-5zM344 829h4v1h-4zM383 829h2v1h-2zM678 829h1v1h-1zM775 829h3v1h-3zM812 829h4v1h-4zM99 830h3v1h-3zM348 830h4v1h-4zM381 830h2v1h-2zM679 830h1v1h-1zM773 830h2v1h-2zM96 831h3v1h-3zM352 831h4v1h-4zM377 831h4v1h-4zM680 831h1v1h-1zM770 831h3v1h-3zM94 832h2v1h-2zM356 832h7v1h-7zM372 832h5v1h-5zM681 832h1v1h-1zM768 832h2v1h-2zM363 833h9v1h-9zM681 833h1v1h-1zM765 833h3v1h-3zM682 834h1v1h-1zM761 834h4v1h-4zM683 835h1v1h-1zM756 835h5v1h-5zM684 836h1v1h-1zM750 836h6v1h-6zM685 837h1v1h-1zM744 837h6v1h-6zM686 838h1v1h-1zM740 838h4v1h-4zM687 839h1v1h-1zM737 839h3v1h-3zM688 840h1v1h-1zM734 840h3v1h-3zM689 841h1v1h-1zM732 841h2v1h-2zM690 842h1v1h-1zM730 842h2v1h-2zM691 843h1v1h-1zM728 843h2v1h-2zM692 844h1v1h-1zM726 844h2v1h-2zM693 845h2v1h-2zM724 845h2v1h-2zM695 846h1v1h-1zM722 846h2v1h-2zM696 847h2v1h-2zM720 847h2v1h-2zM698 848h2v1h-2zM718 848h2v1h-2zM700 849h3v1h-3zM714 849h4v1h-4zM703 850h11v1h-11z" fill="#000090" shape-rendering="crispEdges"/>
<path d="M563 726h1v1h-1zM557 727h7v1h-7zM556 728h1v1h-1zM564 728h1v1h-1zM555 729h1v1h-1zM564 729h1v1h-1zM555 730h1v1h-1zM565 730h1v1h-1zM555 731h1v1h-1zM565 731h1v1h-1zM554 732h1v1h-1zM565 732h1v1h-1zM554 733h1v1h-1zM566 733h1v1h-1zM554 734h1v1h-1zM566 734h1v1h-1zM553 735h1v1h-1zM567 735h1v1h-1zM553 736h1v1h-1zM567 736h1v1h-1zM553 737h1v1h-1zM568 737h1v1h-1zM552 738h1v1h-1zM568 738h1v1h-1zM552 739h1v1h-1zM568 739h1v1h-1zM552 740h1v1h-1zM569 740h1v1h-1zM551 741h1v1h-1zM569 741h1v1h-1zM551 742h1v1h-1zM570 742h1v1h-1zM550 743h1v1h-1zM570 743h1v1h-1zM550 744h1v1h-1zM571 744h1v1h-1zM550 745h1v1h-1zM572 745h1v1h-1zM549 746h1v1h-1zM573 746h1v1h-1zM549 747h1v1h-1zM574 747h2v1h-2zM548 748h1v1h-1zM576 748h1v1h-1zM548 749h1v1h-1zM577 749h1v1h-1zM547 750h1v1h-1zM577 750h1v1h-1zM546 751h1v1h-1zM578 751h1v1h-1zM545 752h1v1h-1zM579 752h1v1h-1zM545 753h1v1h-1zM579 753h1v1h-1zM544 754h1v1h-1zM580 754h1v1h-1zM543 755h1v1h-1zM580 755h1v1h-1zM543 756h1v1h-1zM581 756h1v1h-1zM542 757h1v1h-1zM582 757h1v1h-1zM542 758h1v1h-1zM582 758h1v1h-1zM541 759h1v1h-1zM583 759h1v1h-1zM541 760h1v1h-1zM583 760h1v1h-1zM541 761h1v1h-1zM584 761h1v1h-1zM540 762h1v1h-1zM585 762h1v1h-1zM540 763h1v1h-1zM586 763h1v1h-1zM540 764h1v1h-1zM587 764h2v1h-2zM539 765h1v1h-1zM589 765h1v1h-1zM539 766h1v1h-1zM590 766h1v1h-1zM539 767h1v1h-1zM591 767h1v1h-1zM538 768h1v1h-1zM592 768h1v1h-1zM538 769h1v1h-1zM593 769h1v1h-1zM538 770h1v1h-1zM593 770h1v1h-1zM537 771h1v1h-1zM594 771h1v1h-1zM537 772h1v1h-1zM594 772h1v1h-1zM537 773h1v1h-1zM595 773h1v1h-1zM536 774h1v1h-1zM596 774h1v1h-1zM536 775h1v1h-1zM596 775h1v1h-1zM536 776h1v1h-1zM597 776h1v1h-1zM535 777h1v1h-1zM598 777h1v1h-1zM535 778h1v1h-1zM598 778h1v1h-1zM534 779h1v1h-1zM599 779h1v1h-1zM533 780h1v1h-1zM599 780h1v1h-1zM532 781h1v1h-1zM600 781h1v1h-1zM531 782h1v1h-1zM600 782h1v1h-1zM530 783h1v1h-1zM601 783h1v1h-1zM529 784h1v1h-1zM601 784h1v1h-1zM232 785h3v1h-3zM528 785h1v1h-1zM602 785h1v1h-1zM213 786h13v1h-13zM229 786h3v1h-3zM235 786h1v1h-1zM527 786h1v1h-1zM602 786h1v1h-1zM211 787h2v1h-2zM226 787h3v1h-3zM236 787h1v1h-1zM526 787h1v1h-1zM603 787h1v1h-1zM210 788h1v1h-1zM237 788h1v1h-1zM526 788h1v1h-1zM603 788h1v1h-1zM209 789h1v1h-1zM238 789h1v1h-1zM471 789h3v1h-3zM525 789h1v1h-1zM604 789h1v1h-1zM208 790h1v1h-1zM239 790h1v1h-1zM469 790h2v1h-2zM474 790h3v1h-3zM524 790h1v1h-1zM604 790h1v1h-1zM207 791h1v1h-1zM240 791h1v1h-1zM467 791h2v1h-2zM477 791h3v1h-3zM523 791h1v1h-1zM605 791h1v1h-1zM192 792h15v1h-15zM240 792h1v1h-1zM465 792h2v1h-2zM479 792h1v1h-1zM522 792h1v1h-1zM605 792h1v1h-1zM191 793h1v1h-1zM241 793h2v1h-2zM463 793h2v1h-2zM480 793h1v1h-1zM522 793h1v1h-1zM606 793h1v1h-1zM190 794h1v1h-1zM243 794h1v1h-1zM408 794h3v1h-3zM461 794h2v1h-2zM480 794h1v1h-1zM521 794h1v1h-1zM606 794h1v1h-1zM189 795h1v1h-1zM244 795h1v1h-1zM405 795h3v1h-3zM411 795h1v1h-1zM459 795h2v1h-2zM481 795h1v1h-1zM521 795h1v1h-1zM606 795h1v1h-1zM188 796h1v1h-1zM245 796h2v1h-2zM253 796h6v1h-6zM403 796h2v1h-2zM412 796h2v1h-2zM458 796h1v1h-1zM481 796h1v1h-1zM520 796h1v1h-1zM607 796h1v1h-1zM187 797h1v1h-1zM247 797h1v1h-1zM250 797h3v1h-3zM259 797h7v1h-7zM402 797h1v1h-1zM414 797h2v1h-2zM457 797h1v1h-1zM482 797h1v1h-1zM520 797h1v1h-1zM607 797h1v1h-1zM186 798h1v1h-1zM248 798h2v1h-2zM266 798h5v1h-5zM401 798h1v1h-1zM416 798h1v1h-1zM456 798h1v1h-1zM482 798h1v1h-1zM520 798h1v1h-1zM607 798h1v1h-1zM185 799h1v1h-1zM271 799h2v1h-2zM400 799h1v1h-1zM417 799h1v1h-1zM455 799h1v1h-1zM483 799h1v1h-1zM519 799h1v1h-1zM608 799h1v1h-1zM184 800h1v1h-1zM273 800h3v1h-3zM398 800h2v1h-2zM418 800h2v1h-2zM454 800h1v1h-1zM483 800h1v1h-1zM519 800h1v1h-1zM608 800h1v1h-1zM633 800h8v1h-8zM182 801h2v1h-2zM276 801h8v1h-8zM397 801h1v1h-1zM420 801h1v1h-1zM453 801h1v1h-1zM484 801h1v1h-1zM519 801h1v1h-1zM609 801h1v1h-1zM633 801h1v1h-1zM640 801h1v1h-1zM180 802h2v1h-2zM284 802h1v1h-1zM396 802h1v1h-1zM421 802h1v1h-1zM452 802h1v1h-1zM484 802h1v1h-1zM518 802h1v1h-1zM609 802h1v1h-1zM632 802h1v1h-1zM641 802h1v1h-1zM179 803h1v1h-1zM285 803h1v1h-1zM395 803h1v1h-1zM422 803h1v1h-1zM451 803h1v1h-1zM485 803h1v1h-1zM518 803h1v1h-1zM609 803h1v1h-1zM632 803h1v1h-1zM642 803h1v1h-1zM176 804h3v1h-3zM286 804h1v1h-1zM394 804h1v1h-1zM423 804h3v1h-3zM450 804h2v1h-2zM485 804h1v1h-1zM518 804h1v1h-1zM610 804h1v1h-1zM632 804h1v1h-1zM642 804h1v1h-1zM135 805h3v1h-3zM173 805h3v1h-3zM287 805h1v1h-1zM394 805h1v1h-1zM426 805h2v1h-2zM449 805h1v1h-1zM486 805h1v1h-1zM517 805h1v1h-1zM610 805h1v1h-1zM631 805h1v1h-1zM643 805h1v1h-1zM133 806h2v1h-2zM138 806h1v1h-1zM169 806h4v1h-4zM287 806h1v1h-1zM393 806h1v1h-1zM428 806h2v1h-2zM448 806h1v1h-1zM486 806h1v1h-1zM517 806h1v1h-1zM610 806h1v1h-1zM631 806h1v1h-1zM644 806h1v1h-1zM131 807h2v1h-2zM139 807h1v1h-1zM166 807h3v1h-3zM288 807h1v1h-1zM392 807h1v1h-1zM430 807h2v1h-2zM446 807h2v1h-2zM486 807h1v1h-1zM517 807h1v1h-1zM611 807h1v1h-1zM630 807h1v1h-1zM645 807h1v1h-1zM127 808h4v1h-4zM140 808h2v1h-2zM164 808h2v1h-2zM289 808h1v1h-1zM392 808h1v1h-1zM432 808h2v1h-2zM445 808h1v1h-1zM487 808h1v1h-1zM516 808h1v1h-1zM611 808h1v1h-1zM630 808h1v1h-1zM645 808h1v1h-1zM123 809h4v1h-4zM142 809h1v1h-1zM162 809h2v1h-2zM290 809h1v1h-1zM391 809h1v1h-1zM434 809h1v1h-1zM442 809h3v1h-3zM487 809h1v1h-1zM516 809h1v1h-1zM612 809h1v1h-1zM630 809h1v1h-1zM646 809h1v1h-1zM121 810h2v1h-2zM143 810h10v1h-10zM160 810h2v1h-2zM291 810h1v1h-1zM390 810h1v1h-1zM435 810h2v1h-2zM438 810h4v1h-4zM487 810h1v1h-1zM516 810h1v1h-1zM612 810h1v1h-1zM629 810h1v1h-1zM647 810h1v1h-1zM119 811h2v1h-2zM153 811h3v1h-3zM158 811h2v1h-2zM292 811h2v1h-2zM389 811h1v1h-1zM437 811h1v1h-1zM488 811h1v1h-1zM515 811h1v1h-1zM612 811h1v1h-1zM629 811h1v1h-1zM647 811h2v1h-2zM118 812h1v1h-1zM156 812h2v1h-2zM294 812h1v1h-1zM389 812h1v1h-1zM488 812h1v1h-1zM515 812h1v1h-1zM613 812h1v1h-1zM629 812h1v1h-1zM649 812h1v1h-1zM116 813h2v1h-2zM295 813h1v1h-1zM387 813h2v1h-2zM488 813h1v1h-1zM515 813h1v1h-1zM613 813h1v1h-1zM628 813h1v1h-1zM650 813h1v1h-1zM115 814h1v1h-1zM296 814h2v1h-2zM386 814h1v1h-1zM489 814h1v1h-1zM514 814h1v1h-1zM614 814h1v1h-1zM628 814h1v1h-1zM651 814h2v1h-2zM113 815h2v1h-2zM297 815h1v1h-1zM385 815h1v1h-1zM489 815h1v1h-1zM514 815h1v1h-1zM614 815h1v1h-1zM627 815h1v1h-1zM653 815h1v1h-1zM112 816h1v1h-1zM298 816h1v1h-1zM384 816h1v1h-1zM489 816h1v1h-1zM514 816h1v1h-1zM615 816h1v1h-1zM627 816h1v1h-1zM654 816h1v1h-1zM779 816h5v1h-5zM111 817h1v1h-1zM299 817h1v1h-1zM382 817h2v1h-2zM490 817h1v1h-1zM513 817h1v1h-1zM615 817h1v1h-1zM627 817h1v1h-1zM654 817h1v1h-1zM777 817h2v1h-2zM784 817h4v1h-4zM109 818h2v1h-2zM299 818h1v1h-1zM381 818h1v1h-1zM490 818h1v1h-1zM513 818h1v1h-1zM616 818h1v1h-1zM626 818h1v1h-1zM655 818h1v1h-1zM775 818h2v1h-2zM788 818h1v1h-1zM107 819h2v1h-2zM300 819h1v1h-1zM380 819h1v1h-1zM490 819h1v1h-1zM513 819h1v1h-1zM616 819h1v1h-1zM626 819h1v1h-1zM655 819h1v1h-1zM773 819h2v1h-2zM788 819h1v1h-1zM103 820h4v1h-4zM300 820h1v1h-1zM379 820h1v1h-1zM491 820h1v1h-1zM512 820h1v1h-1zM617 820h1v1h-1zM624 820h2v1h-2zM656 820h1v1h-1zM771 820h2v1h-2zM789 820h1v1h-1zM94 821h9v1h-9zM301 821h1v1h-1zM378 821h1v1h-1zM491 821h1v1h-1zM512 821h1v1h-1zM617 821h1v1h-1zM623 821h1v1h-1zM656 821h1v1h-1zM769 821h2v1h-2zM790 821h1v1h-1zM301 822h1v1h-1zM377 822h1v1h-1zM491 822h1v1h-1zM512 822h1v1h-1zM618 822h1v1h-1zM622 822h1v1h-1zM656 822h1v1h-1zM767 822h2v1h-2zM791 822h1v1h-1zM302 823h1v1h-1zM376 823h1v1h-1zM492 823h1v1h-1zM511 823h1v1h-1zM618 823h1v1h-1zM621 823h1v1h-1zM657 823h1v1h-1zM766 823h1v1h-1zM792 823h1v1h-1zM303 824h1v1h-1zM375 824h1v1h-1zM492 824h1v1h-1zM511 824h1v1h-1zM619 824h2v1h-2zM657 824h1v1h-1zM730 824h4v1h-4zM765 824h1v1h-1zM792 824h1v1h-1zM303 825h1v1h-1zM374 825h1v1h-1zM492 825h1v1h-1zM511 825h1v1h-1zM619 825h1v1h-1zM658 825h1v1h-1zM729 825h1v1h-1zM734 825h2v1h-2zM765 825h1v1h-1zM793 825h1v1h-1zM304 826h1v1h-1zM373 826h1v1h-1zM493 826h1v1h-1zM510 826h1v1h-1zM658 826h1v1h-1zM728 826h1v1h-1zM736 826h2v1h-2zM764 826h1v1h-1zM794 826h1v1h-1zM304 827h1v1h-1zM373 827h1v1h-1zM493 827h1v1h-1zM510 827h1v1h-1zM658 827h1v1h-1zM727 827h1v1h-1zM738 827h2v1h-2zM763 827h1v1h-1zM795 827h2v1h-2zM305 828h1v1h-1zM372 828h1v1h-1zM493 828h1v1h-1zM510 828h1v1h-1zM659 828h1v1h-1zM725 828h2v1h-2zM740 828h1v1h-1zM763 828h1v1h-1zM797 828h2v1h-2zM306 829h1v1h-1zM371 829h1v1h-1zM494 829h1v1h-1zM509 829h1v1h-1zM659 829h1v1h-1zM724 829h1v1h-1zM741 829h1v1h-1zM762 829h1v1h-1zM799 829h2v1h-2zM306 830h1v1h-1zM371 830h1v1h-1zM494 830h1v1h-1zM509 830h1v1h-1zM659 830h1v1h-1zM724 830h1v1h-1zM742 830h2v1h-2zM762 830h1v1h-1zM801 830h2v1h-2zM307 831h1v1h-1zM370 831h1v1h-1zM495 831h1v1h-1zM509 831h1v1h-1zM660 831h1v1h-1zM723 831h1v1h-1zM744 831h1v1h-1zM748 831h6v1h-6zM761 831h1v1h-1zM803 831h1v1h-1zM307 832h1v1h-1zM369 832h1v1h-1zM495 832h1v1h-1zM508 832h1v1h-1zM660 832h1v1h-1zM723 832h1v1h-1zM745 832h3v1h-3zM754 832h2v1h-2zM760 832h1v1h-1zM804 832h2v1h-2zM308 833h1v1h-1zM369 833h1v1h-1zM495 833h1v1h-1zM508 833h1v1h-1zM661 833h1v1h-1zM722 833h1v1h-1zM756 833h2v1h-2zM760 833h1v1h-1zM806 833h2v1h-2zM309 834h1v1h-1zM368 834h1v1h-1zM496 834h1v1h-1zM508 834h1v1h-1zM661 834h1v1h-1zM722 834h1v1h-1zM758 834h2v1h-2zM808 834h8v1h-8zM309 835h1v1h-1zM367 835h1v1h-1zM496 835h1v1h-1zM507 835h1v1h-1zM662 835h1v1h-1zM721 835h1v1h-1zM310 836h1v1h-1zM330 836h8v1h-8zM366 836h2v1h-2zM497 836h1v1h-1zM507 836h1v1h-1zM662 836h1v1h-1zM721 836h1v1h-1zM311 837h1v1h-1zM326 837h4v1h-4zM338 837h10v1h-10zM364 837h2v1h-2zM497 837h1v1h-1zM506 837h1v1h-1zM663 837h1v1h-1zM720 837h1v1h-1zM311 838h3v1h-3zM323 838h3v1h-3zM348 838h1v1h-1zM362 838h2v1h-2zM497 838h1v1h-1zM505 838h1v1h-1zM664 838h1v1h-1zM720 838h1v1h-1zM314 839h3v1h-3zM320 839h3v1h-3zM349 839h2v1h-2zM359 839h3v1h-3zM498 839h1v1h-1zM504 839h1v1h-1zM664 839h1v1h-1zM719 839h1v1h-1zM317 840h3v1h-3zM351 840h2v1h-2zM355 840h4v1h-4zM498 840h1v1h-1zM504 840h1v1h-1zM665 840h1v1h-1zM719 840h1v1h-1zM353 841h2v1h-2zM499 841h1v1h-1zM503 841h1v1h-1zM666 841h1v1h-1zM718 841h1v1h-1zM499 842h1v1h-1zM502 842h1v1h-1zM666 842h1v1h-1zM718 842h1v1h-1zM500 843h2v1h-2zM667 843h1v1h-1zM717 843h1v1h-1zM500 844h1v1h-1zM667 844h1v1h-1zM716 844h2v1h-2zM668 845h1v1h-1zM715 845h1v1h-1zM668 846h1v1h-1zM713 846h2v1h-2zM669 847h1v1h-1zM712 847h1v1h-1zM669 848h1v1h-1zM710 848h2v1h-2zM670 849h1v1h-1zM710 849h1v1h-1zM670 850h1v1h-1zM709 850h1v1h-1zM670 851h1v1h-1zM708 851h1v1h-1zM671 852h1v1h-1zM708 852h1v1h-1zM671 853h1v1h-1zM707 853h1v1h-1zM671 854h1v1h-1zM707 854h1v1h-1zM672 855h1v1h-1zM706 855h1v1h-1zM672 856h1v1h-1zM705 856h1v1h-1zM672 857h1v1h-1zM705 857h1v1h-1zM673 858h1v1h-1zM704 858h1v1h-1zM673 859h1v1h-1zM704 859h1v1h-1zM673 860h1v1h-1zM703 860h1v1h-1zM674 861h1v1h-1zM702 861h1v1h-1zM674 862h1v1h-1zM702 862h1v1h-1zM675 863h1v1h-1zM701 863h1v1h-1zM675 864h1v1h-1zM701 864h1v1h-1zM676 865h3v1h-3zM700 865h1v1h-1zM679 866h3v1h-3zM700 866h1v1h-1zM682 867h1v1h-1zM699 867h1v1h-1zM683 868h1v1h-1zM699 868h1v1h-1zM684 869h1v1h-1zM698 869h1v1h-1zM685 870h1v1h-1zM697 870h1v1h-1zM686 871h1v1h-1zM697 871h1v1h-1zM687 872h1v1h-1zM696 872h1v1h-1zM688 873h1v1h-1zM691 873h6v1h-6zM689 874h2v1h-2z" fill="#000" shape-rendering="crispEdges"/>
<rect x="178" y="924" width="1" height="5" fill="#cfd6df" shape-rendering="crispEdges"/>
<text x="180.4" y="936" font-size="12.3" font-weight="bold" fill="#1c1c30">2025/02</text>
<rect x="318" y="924" width="1" height="5" fill="#cfd6df" shape-rendering="crispEdges"/>
<text x="320.4" y="936" font-size="12.3" font-weight="bold" fill="#1c1c30">2025/03</text>
<rect x="465" y="924" width="1" height="5" fill="#cfd6df" shape-rendering="crispEdges"/>
<text x="467.4" y="936" font-size="12.3" font-weight="bold" fill="#1c1c30">2025/04</text>
<rect x="612" y="924" width="1" height="5" fill="#cfd6df" shape-rendering="crispEdges"/>
<text x="614.4" y="936" font-size="12.3" font-weight="bold" fill="#1c1c30">2025/05</text>
<rect x="766" y="924" width="1" height="5" fill="#cfd6df" shape-rendering="crispEdges"/>
<text x="768.4" y="936" font-size="12.3" font-weight="bold" fill="#1c1c30">2025/06</text>
<text x="901.3" y="943.3" font-size="32" fill="#cdb9ac" letter-spacing="1.1">FX678</text>
<text x="900.3" y="942.3" font-size="32" fill="#d3e1f5" letter-spacing="1.1">FX678</text>
</svg>
<div class="abs" style="left:20px;top:923px;width:70px;height:20px;border:1px solid #d3d9e2;border-bottom:none;box-sizing:border-box;background:#fff;color:#ff7a14;font-weight:bold;font-size:12px;line-height:21px;white-space:nowrap"><span class="abs" style="left:14px;top:1px">日线</span><span class="abs" style="left:42px;top:-0.5px;font-size:14px">▲</span></div>
<div class="abs" style="left:20px;top:943px;width:1010px;height:1px;background:#c8cfd9"></div>
<div class="abs" style="left:0px;top:959px;width:1030px;height:1px;background:#c8cfd9"></div>
<div class="abs" style="left:584px;top:958px;width:446px;height:1px;background:#c8cfd9"></div>
<div class="bt" style="left:20px;width:39px;background:#ff6600;color:#fff;">指标</div>
<div class="bt" style="left:60px;width:39px;">模板</div>
<div class="bt" style="left:100px;width:57px;color:#ff7a14;"><span class="m">VIP</span>指标</div>
<div class="bt" style="left:158px;width:27px;"><span class="m">MA</span></div>
<div class="bt" style="left:186px;width:39px;"><span class="m">MACD</span></div>
<div class="bt" style="left:226px;width:39px;"><span class="m">BOLL</span></div>
<div class="bt" style="left:266px;width:33px;"><span class="m">VOL</span></div>
<div class="bt" style="left:300px;width:39px;"><span class="m">BIAS</span></div>
<div class="bt" style="left:340px;width:33px;"><span class="m">CCI</span></div>
<div class="bt" style="left:374px;width:33px;"><span class="m">KDJ</span></div>
<div class="bt" style="left:408px;width:39px;"><span class="m">LW&amp;</span></div>
<div class="bt" style="left:448px;width:33px;"><span class="m">RSI</span></div>
<div class="bt" style="left:482px;width:27px;"><span class="m">CR</span></div>
<div class="bt" style="left:510px;width:33px;"><span class="m">PSY</span></div>
<div class="bt" style="left:544px;width:39px;">设置</div>
<div class="abs" style="left:743px;top:959px;width:180px;height:8px;background:#b2b2b2"></div>
<div class="abs" style="left:821px;top:961px;width:0;height:0;border-left:12px solid transparent;border-right:12px solid transparent;border-bottom:6px solid #6c6c6c"></div>
</body></html>
